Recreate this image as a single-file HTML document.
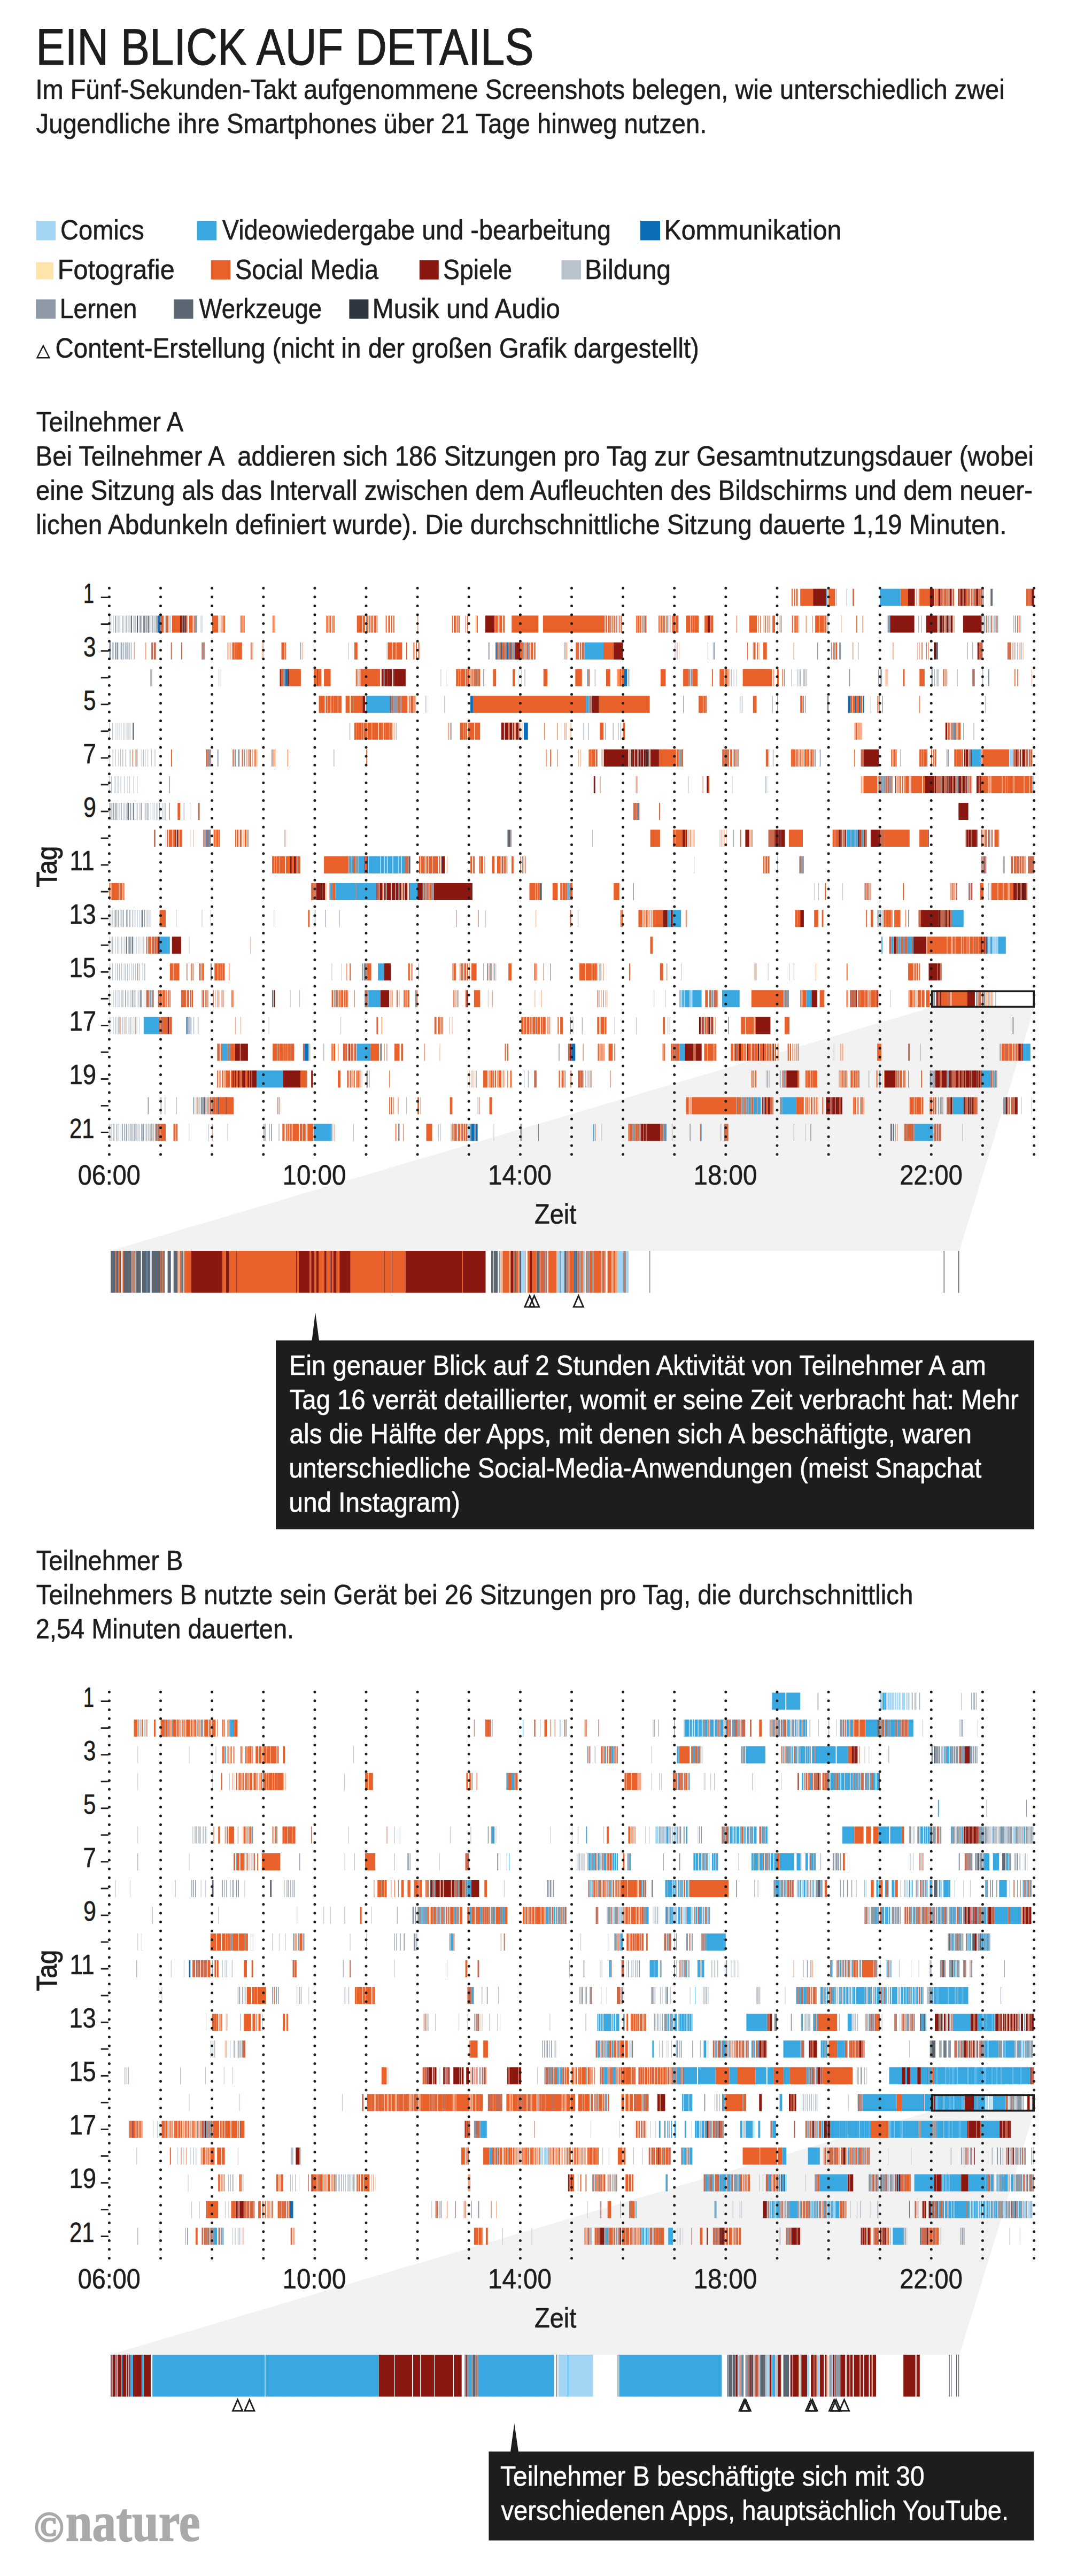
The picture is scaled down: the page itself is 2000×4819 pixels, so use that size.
<!DOCTYPE html>
<html lang="de"><head><meta charset="utf-8"><title>Ein Blick auf Details</title>
<style>html,body{margin:0;padding:0;background:#fff}svg{display:block}</style></head>
<body><svg width="2000" height="4819" viewBox="0 0 2000 4819">
<rect width="2000" height="4819" fill="#fff"/>
<text x="67.3" y="120.7" font-size="97.0" textLength="931.3" lengthAdjust="spacingAndGlyphs" fill="#1d1d1b" stroke="#1d1d1b" stroke-width="1.16" stroke-linejoin="round" font-family='"Liberation Sans",sans-serif'>EIN BLICK AUF DETAILS</text>
<text x="66.4" y="184.9" font-size="52.5" textLength="1813.3" lengthAdjust="spacingAndGlyphs" fill="#1d1d1b" stroke="#1d1d1b" stroke-width="0.63" stroke-linejoin="round" font-family='"Liberation Sans",sans-serif'>Im Fünf-Sekunden-Takt aufgenommene Screenshots belegen, wie unterschiedlich zwei</text>
<text x="67.6" y="248.5" font-size="52.5" textLength="1254.7" lengthAdjust="spacingAndGlyphs" fill="#1d1d1b" stroke="#1d1d1b" stroke-width="0.63" stroke-linejoin="round" font-family='"Liberation Sans",sans-serif'>Jugendliche ihre Smartphones über 21 Tage hinweg nutzen.</text>
<rect x="67.5" y="413.0" width="36.5" height="36.5" fill="#a3d5f5"/>
<text x="113.1" y="448.4" font-size="52.5" textLength="156.7" lengthAdjust="spacingAndGlyphs" fill="#1d1d1b" stroke="#1d1d1b" stroke-width="0.63" stroke-linejoin="round" font-family='"Liberation Sans",sans-serif'>Comics</text>
<rect x="368.5" y="413.0" width="36.5" height="36.5" fill="#3aa8e0"/>
<text x="415.8" y="448.4" font-size="52.5" textLength="727.1" lengthAdjust="spacingAndGlyphs" fill="#1d1d1b" stroke="#1d1d1b" stroke-width="0.63" stroke-linejoin="round" font-family='"Liberation Sans",sans-serif'>Videowiedergabe und -bearbeitung</text>
<rect x="1198.0" y="413.0" width="37.0" height="36.5" fill="#0a6db8"/>
<text x="1242.6" y="448.4" font-size="52.5" textLength="331.7" lengthAdjust="spacingAndGlyphs" fill="#1d1d1b" stroke="#1d1d1b" stroke-width="0.63" stroke-linejoin="round" font-family='"Liberation Sans",sans-serif'>Kommunikation</text>
<rect x="67.3" y="490.5" width="32.7" height="32.0" fill="#fde4a9"/>
<text x="107.8" y="522.0" font-size="52.5" textLength="218.9" lengthAdjust="spacingAndGlyphs" fill="#1d1d1b" stroke="#1d1d1b" stroke-width="0.63" stroke-linejoin="round" font-family='"Liberation Sans",sans-serif'>Fotografie</text>
<rect x="394.7" y="486.8" width="36.5" height="36.0" fill="#e8602a"/>
<text x="439.9" y="522.0" font-size="52.5" textLength="268.1" lengthAdjust="spacingAndGlyphs" fill="#1d1d1b" stroke="#1d1d1b" stroke-width="0.63" stroke-linejoin="round" font-family='"Liberation Sans",sans-serif'>Social Media</text>
<rect x="784.8" y="486.8" width="36.0" height="36.0" fill="#8a1811"/>
<text x="828.9" y="522.0" font-size="52.5" textLength="129.2" lengthAdjust="spacingAndGlyphs" fill="#1d1d1b" stroke="#1d1d1b" stroke-width="0.63" stroke-linejoin="round" font-family='"Liberation Sans",sans-serif'>Spiele</text>
<rect x="1050.5" y="486.8" width="36.5" height="36.0" fill="#b9c3cd"/>
<text x="1094.1" y="522.0" font-size="52.5" textLength="161.1" lengthAdjust="spacingAndGlyphs" fill="#1d1d1b" stroke="#1d1d1b" stroke-width="0.63" stroke-linejoin="round" font-family='"Liberation Sans",sans-serif'>Bildung</text>
<rect x="67.3" y="560.2" width="36.7" height="36.1" fill="#8e99a6"/>
<text x="111.8" y="595.4" font-size="52.5" textLength="144.5" lengthAdjust="spacingAndGlyphs" fill="#1d1d1b" stroke="#1d1d1b" stroke-width="0.63" stroke-linejoin="round" font-family='"Liberation Sans",sans-serif'>Lernen</text>
<rect x="325.0" y="560.2" width="36.5" height="36.1" fill="#5c6672"/>
<text x="372.5" y="595.4" font-size="52.5" textLength="229.6" lengthAdjust="spacingAndGlyphs" fill="#1d1d1b" stroke="#1d1d1b" stroke-width="0.63" stroke-linejoin="round" font-family='"Liberation Sans",sans-serif'>Werkzeuge</text>
<rect x="653.4" y="560.2" width="36.0" height="36.1" fill="#2f3642"/>
<text x="696.8" y="595.4" font-size="52.5" textLength="351.1" lengthAdjust="spacingAndGlyphs" fill="#1d1d1b" stroke="#1d1d1b" stroke-width="0.63" stroke-linejoin="round" font-family='"Liberation Sans",sans-serif'>Musik und Audio</text>
<path d="M69.55 669.2L80.9 646.7L92.25 669.2Z" fill="none" stroke="#1d1d1b" stroke-width="2.4"/>
<text x="103.6" y="669.4" font-size="52.5" textLength="1204.3" lengthAdjust="spacingAndGlyphs" fill="#1d1d1b" stroke="#1d1d1b" stroke-width="0.63" stroke-linejoin="round" font-family='"Liberation Sans",sans-serif'>Content-Erstellung (nicht in der großen Grafik dargestellt)</text>
<text x="67.7" y="807.4" font-size="52.5" textLength="275.6" lengthAdjust="spacingAndGlyphs" fill="#1d1d1b" stroke="#1d1d1b" stroke-width="0.63" stroke-linejoin="round" font-family='"Liberation Sans",sans-serif'>Teilnehmer A</text>
<text x="66.6" y="871.3" font-size="52.5" textLength="1867.4" lengthAdjust="spacingAndGlyphs" fill="#1d1d1b" stroke="#1d1d1b" stroke-width="0.63" stroke-linejoin="round" font-family='"Liberation Sans",sans-serif' xml:space="preserve" style="white-space:pre">Bei Teilnehmer A  addieren sich 186 Sitzungen pro Tag zur Gesamtnutzungsdauer (wobei</text>
<text x="67.1" y="935.1" font-size="52.5" textLength="1864.8" lengthAdjust="spacingAndGlyphs" fill="#1d1d1b" stroke="#1d1d1b" stroke-width="0.63" stroke-linejoin="round" font-family='"Liberation Sans",sans-serif'>eine Sitzung als das Intervall zwischen dem Aufleuchten des Bildschirms und dem neuer-</text>
<text x="66.9" y="999.1" font-size="52.5" textLength="1816.6" lengthAdjust="spacingAndGlyphs" fill="#1d1d1b" stroke="#1d1d1b" stroke-width="0.63" stroke-linejoin="round" font-family='"Liberation Sans",sans-serif'>lichen Abdunkeln definiert wurde). Die durchschnittliche Sitzung dauerte 1,19 Minuten.</text>
<text x="67.8" y="2936.5" font-size="52.5" textLength="274.6" lengthAdjust="spacingAndGlyphs" fill="#1d1d1b" stroke="#1d1d1b" stroke-width="0.63" stroke-linejoin="round" font-family='"Liberation Sans",sans-serif'>Teilnehmer B</text>
<text x="67.8" y="3000.5" font-size="52.5" textLength="1640.5" lengthAdjust="spacingAndGlyphs" fill="#1d1d1b" stroke="#1d1d1b" stroke-width="0.63" stroke-linejoin="round" font-family='"Liberation Sans",sans-serif'>Teilnehmers B nutzte sein Gerät bei 26 Sitzungen pro Tag, die durchschnittlich</text>
<text x="66.7" y="3064.7" font-size="52.5" textLength="483.4" lengthAdjust="spacingAndGlyphs" fill="#1d1d1b" stroke="#1d1d1b" stroke-width="0.63" stroke-linejoin="round" font-family='"Liberation Sans",sans-serif'>2,54 Minuten dauerten.</text>
<path d="M1741 1885L1935 1885L1795 2340L206 2340Z" fill="#f2f2f2"/>
<path d="M1480.9 1117.6H2100" stroke="#e8602a" stroke-width="32" stroke-dasharray="2 2.8 2 1.9 2.8 4.8 24 28.8 12.5 32.7 2.9 86.5 14.4 21.1 19.2 7.7 1.5 1 3 1 2 8 2 2 3 2 2 9.5 1 21.6 4 7.5 1.5 4.5 2 6 2 3 1.2 81.7 1 1 2 1.5 1.5 3000"/>
<path d="M1521.2 1117.6H2100" stroke="#8a1811" stroke-width="32" stroke-dasharray="24 153.8 12.5 27.9 7.7 8.5 4 7 1 9 4 11.7 1.5 3 4 2 3.9 19.5 4 99.5 4.8 3000"/>
<path d="M1545.3 1117.6H2100" stroke="#3aa8e0" stroke-width="32" stroke-dasharray="2.9 98 38.4 3000"/>
<path d="M1564.5 1117.6H2100" stroke="#8e99a6" stroke-width="32" stroke-dasharray="1 18.3 1 253.8 1.9 12.5 1 2 1.8 3000"/>
<path d="M1713.5 1117.6H2100" stroke="#f4a582" stroke-width="32" stroke-dasharray="1.5 1.9 1.4 3000"/>
<path d="M1759.6 1117.6H2100" stroke="#c96a4e" stroke-width="32" stroke-dasharray="4 7 2 2 2 5.5 2 9.7 3 4 2 7.9 4 1.5 2 3 3 6 2 2 3 83.9 1 2 1.5 1.5 2.6 3000"/>
<path d="M1853.9 1117.6H2100" stroke="#5c6672" stroke-width="32" stroke-dasharray="2 3000"/>
<path d="M204.4 1167.6H2100" stroke="#8e99a6" stroke-width="32" stroke-dasharray="1 9.7 1.6 4.9 0.7 6.2 1 7 1.6 4.8 1 5.9 1.6 2.1 1 10.1 1.3 15.9 1.3 4.5 1.3 5.2 1.3 69.5 4 786.7 1 2.9 1 87.4 1.5 1.4 1 10.1 1 5 1.5 191.4 1.6 198.2 4 53.7 1 3.8 1 116.2 2 7 1.5 9.7 2 3.3 1.6 28.8 0.7 2.7 1.3 7.5 1 1 0.2 3000"/>
<path d="M206.7 1167.6H2100" stroke="#b9c3cd" stroke-width="32" stroke-dasharray="1.6 2.7 1.6 5.7 1.3 3.9 1.6 5.9 1.3 2.2 0.7 4.4 1 0.9 1 65.7 2 5.2 2 0.7 1.5 55.9 1.3 1.8 0.7 1167.9 2.9 286.4 2 5.3 1 7.3 1.5 4.9 1 3000"/>
<path d="M245.6 1167.6H2100" stroke="#2f3642" stroke-width="32" stroke-dasharray="1.3 9.3 1.6 19.1 1 3000"/>
<path d="M259.9 1167.6H2100" stroke="#5c6672" stroke-width="32" stroke-dasharray="0.7 1.5 1 4.6 1 1.4 1 1.5 1 0.9 1 4.2 0.7 4.1 1 5.9 1.3 49.4 1 1.5 2 3000"/>
<path d="M295.7 1167.6H2100" stroke="#0a6db8" stroke-width="32" stroke-dasharray="4.8 1364.1 0.8 3000"/>
<path d="M300.5 1167.6H2100" stroke="#e8602a" stroke-width="32" stroke-dasharray="5.8 4.5 4 6.9 15.4 11.5 2 2.9 1.5 0.6 5 1.9 2 32.3 11.5 2.9 1 1.2 1 1.1 1 1.3 3 28.8 1 0.6 1.5 0.8 1.5 0.7 2 52.4 1 0.4 2 1 0.4 95.2 1 1 1 1.5 2 1 2 2.4 1 0.9 2 41.8 4 0.3 6 0.9 4 2.1 1.5 0.6 2 1.9 1.5 1 1 0.3 1 0.5 2 1.8 3 1.4 1.7 15.4 2 2.2 1 1 2 2.1 2 2 2 43.4 1 63.4 2 1.3 2 0.5 2 1.2 1 0.5 1.5 0.9 1.5 10.6 1 2.1 1.3 14.9 1 1.4 1.6 31.6 1.5 0.3 4 1.3 1.5 0.3 5 1.8 3 12.9 50 8.7 114.4 0.5 1.5 0.9 3 1.5 3 4.8 1.5 1.3 2 7.6 1 2.7 1.5 26.9 1 0.7 1 0.8 2 0.9 1 0.5 1.5 1.3 1.5 0.7 1 1 1 1 2.5 22.1 1 0.9 2 1.1 3 1.3 3 1.8 1.5 5.8 1 0.8 0.9 1.9 5 1 5 15 8 1.1 3 0.3 3 0.3 8 10.9 6.7 4.8 4.8 43.3 1 23.1 14.4 1.9 1 2.9 0.9 5.8 1.3 1.2 1.6 2.4 1 1.5 0.7 1.1 0.9 4.8 4.8 4.8 1 2.9 1.3 21.7 2 1.5 1.5 1 1.5 0.7 1 0.7 2 1.4 0.2 12.5 1 10.6 1 4.8 8 0.6 8 0.7 3.9 26.9 1 27.9 1.9 9.6 1 284.2 0.7 3.5 1.3 1.6 1.6 3000"/>
<path d="M337.0 1167.6H2100" stroke="#8a1811" stroke-width="32" stroke-dasharray="3 3 1.5 2 2 559.5 17.3 398.9 4.8 336.4 45.2 22.1 20.3 23.5 1 24.4 34.6 3000"/>
<path d="M340.0 1167.6H2100" stroke="#c96a4e" stroke-width="32" stroke-dasharray="2 799.9 2 7.9 2 599.2 1.5 1.5 2 5 2 2.5 2 5 1 6 1.5 1.5 1 59.6 2 7.3 2 7.4 1 3000"/>
<path d="M1759.0 1167.6H2100" stroke="#6e1a14" stroke-width="32" stroke-dasharray="4 2 1.5 4 4 4 3 3000"/>
<path d="M204.4 1217.7H2100" stroke="#8e99a6" stroke-width="32" stroke-dasharray="3 7.8 2 1.1 3 2.7 1 0.8 2 10.6 1.5 139.5 3 179.6 1.3 350.5 1.9 16.5 3 9 2 12.5 4 15.6 2 18.5 1 57.1 1 206.3 1 58.9 1 8.7 1 1.2 1 191.9 1.6 24.4 1.5 13.6 3 236.6 1 8.7 1 77.9 1.3 3.9 1 5.2 1.6 3000"/>
<path d="M209.8 1217.7H2100" stroke="#b9c3cd" stroke-width="32" stroke-dasharray="3 16.6 3 1.5 3 3.7 3 1.9 1.5 404.3 1 71.1 1 3000"/>
<path d="M250.5 1217.7H2100" stroke="#f4a582" stroke-width="32" stroke-dasharray="1.6 19.5 1.9 151.9 2 2.2 2 1.9 1.5 54.8 1.5 1.7 1 1.5 0.1 766.1 0.7 4.3 1 2.5 0.7 635.2 1.3 6.2 1 3000"/>
<path d="M283.2 1217.7H2100" stroke="#c96a4e" stroke-width="32" stroke-dasharray="3 1.5 4 1 0.1 26.9 1.9 17.3 1.9 36.5 2 3 0.8 696 1 2 1.5 5 4 739.2 5 1 0.6 47.1 1.5 1.5 3 3000"/>
<path d="M435.1 1217.7H2100" stroke="#e8602a" stroke-width="32" stroke-dasharray="3 0.3 3 0.4 11 16 1 0.5 2 0.8 0.5 52.9 6 0.9 1.8 30.7 0.7 96.4 5.8 56.7 8 1.1 6 0.9 10.8 7.7 1.9 11.5 2 2.6 2 2.6 2 144.6 3 3 2 2 5 2 1.5 3 4 2 2 14.6 5 3 2 1.5 3 2.5 2 1 4 2.5 2 53.2 1 3.9 1 16.2 2 1 2 3 2 5.5 0.8 35.6 19.2 249.9 1 9.6 1 0.8 3 2.9 2 1.4 0.5 7.7 6.7 50 1 72.6 1.5 1.3 1 1.2 3 29 1 8.7 1 64.4 1 45.2 1 1.4 1.3 3.9 1.6 7.1 1 2.1 1 147.8 1 1.5 1.5 4.5 1 1.5 0.5 3000"/>
<path d="M927.2 1217.7H2100" stroke="#0a6db8" stroke-width="32" stroke-dasharray="2 8 2 8.5 3 4 2 6 1 24.1 1 3000"/>
<path d="M963.7 1217.7H2100" stroke="#8a1811" stroke-width="32" stroke-dasharray="9.6 174.9 17.3 663.2 3 5 1 3000"/>
<path d="M1093.5 1217.7H2100" stroke="#3aa8e0" stroke-width="32" stroke-dasharray="35.6 3000"/>
<path d="M1747.1 1217.7H2100" stroke="#6e1a14" stroke-width="32" stroke-dasharray="4 3000"/>
<path d="M1751.1 1217.7H2100" stroke="#5c6672" stroke-width="32" stroke-dasharray="3.7 3000"/>
<path d="M281.3 1267.8H2100" stroke="#8e99a6" stroke-width="32" stroke-dasharray="0.7 1.3 1 0.8 0.1 244.1 4 359.7 1.5 9.7 1.9 192.2 3.5 10.9 1 61.5 1 1.8 1 109.6 2.5 1.5 2.7 185.5 1 10.6 0.7 1.6 0.7 2 1.3 3.8 1 1.2 1 1.7 0.7 1 1 78.3 1.9 52.9 1.6 1.9 1 0.9 1.6 92.1 0.7 1.2 1 2.5 1 2.3 0.7 2.3 1.6 66.5 1.8 14.4 1 8.7 3 3000"/>
<path d="M409.1 1267.8H2100" stroke="#b9c3cd" stroke-width="32" stroke-dasharray="1 1 0.7 0.9 0.7 411 1 8.7 1 135.5 0.7 3.5 1 5.5 1.6 308.3 1.5 74.8 1.6 3.5 1 4 1 3000"/>
<path d="M523.5 1267.8H2100" stroke="#8a1811" stroke-width="32" stroke-dasharray="2 3.5 0.3 4 1 4 2.5 52.1 1 119.9 4 2 5 1 4 2 1.5 4.5 21.1 3000"/>
<path d="M525.5 1267.8H2100" stroke="#e8602a" stroke-width="32" stroke-dasharray="3.5 11.8 22.1 24 6 1 7.4 4.8 12.5 47.1 2 1 1.5 0.8 1 0.6 2 0.7 35.6 142.3 4 0.4 4 0.6 8 0.9 3 0.3 3.9 4 2 2 2.1 0.3 1.5 0.4 2 2.1 3.7 24 5.8 30.8 4.8 52.9 7.7 51.9 12.5 45.2 7.7 12.5 1 0.6 1 0.5 2 0.6 2.9 1 3.8 68.2 9.6 32.7 10.6 6.7 9.6 26.9 1.9 12.5 9 1.5 4 28.8 54.8 1.9 1 1.6 0.3 4.8 2.9 6.7 1.3 2 1 221.6 3 27.8 9.6 34.6 2 2.4 1 3 0.2 125 1.6 3.5 1.3 3000"/>
<path d="M534.3 1267.8H2100" stroke="#0a6db8" stroke-width="32" stroke-dasharray="4 629.2 5.8 3000"/>
<path d="M717.8 1267.8H2100" stroke="#5c6672" stroke-width="32" stroke-dasharray="2 15 1.5 1054 1 3000"/>
<path d="M724.8 1267.8H2100" stroke="#6e1a14" stroke-width="32" stroke-dasharray="1 4 2 4.5 1.5 3000"/>
<path d="M878.2 1267.8H2100" stroke="#f4a582" stroke-width="32" stroke-dasharray="4 2 2 474.6 4 291 0.7 1.2 1 1 0.9 106.6 1 1.9 2 157.6 1 3000"/>
<path d="M1101.8 1267.8H2100" stroke="#c96a4e" stroke-width="32" stroke-dasharray="1.3 716.1 3 3000"/>
<path d="M596.6 1317.8H2100" stroke="#e8602a" stroke-width="32" stroke-dasharray="11 1.6 3 0.4 6 0.9 4 0.3 8 0.6 6.5 7.7 7.7 2 4 0.7 17.3 65.9 2 5 10 4.5 2 1 5 1 1 2 0.5 106.7 211.5 24 95.2 91.3 8 1.2 4 0.4 1.8 86.5 6.7 81.7 4 5.6 1 82.8 4 1 4 3.5 4 2 4 28.3 2 1.8 1 4.8 1 68.2 1 3000"/>
<path d="M654.2 1317.8H2100" stroke="#fde4a9" stroke-width="32" stroke-dasharray="2 4 0.7 3000"/>
<path d="M678.3 1317.8H2100" stroke="#8a1811" stroke-width="32" stroke-dasharray="4.8 47.1 1.5 376.3 12.5 3000"/>
<path d="M685.0 1317.8H2100" stroke="#3aa8e0" stroke-width="32" stroke-dasharray="45.2 366.2 4.8 3000"/>
<path d="M731.7 1317.8H2100" stroke="#8e99a6" stroke-width="32" stroke-dasharray="1.5 2 9 5 2 350 1.5 3 2 170.4 1 104.8 1.3 2.6 1 55.7 1 8.7 1 46.3 2.7 43.3 2.9 293.2 1 3000"/>
<path d="M733.2 1317.8H2100" stroke="#c96a4e" stroke-width="32" stroke-dasharray="2 11 3 353.5 3 2 0.2 493.7 1.5 25.8 1 3000"/>
<path d="M762.2 1317.8H2100" stroke="#f4a582" stroke-width="32" stroke-dasharray="2 9.5 1 1 2 3000"/>
<path d="M795.5 1317.8H2100" stroke="#b9c3cd" stroke-width="32" stroke-dasharray="1 1.7 0.7 1.1 0.3 30.8 1 3000"/>
<path d="M880.1 1317.8H2100" stroke="#0a6db8" stroke-width="32" stroke-dasharray="4.8 701.7 4 9 2 5.5 2 5.5 2 3000"/>
<path d="M204.4 1367.8H2100" stroke="#b9c3cd" stroke-width="32" stroke-dasharray="1.3 4.4 1.3 4 0.7 2.4 1 2.9 1 2.9 1 2.7 1 2.3 0.7 1.4 1 1.4 0.7 1 1 2 1.6 2.8 0.9 3000"/>
<path d="M248.6 1367.8H2100" stroke="#5c6672" stroke-width="32" stroke-dasharray="1.9 3000"/>
<path d="M654.2 1367.8H2100" stroke="#8e99a6" stroke-width="32" stroke-dasharray="1 187.9 1.6 246.9 1 7.7 1 30.8 1 13.5 1 8.7 1 3.8 1 619 5 16.1 1 18.3 1 3000"/>
<path d="M662.9 1367.8H2100" stroke="#e8602a" stroke-width="32" stroke-dasharray="4 0.3 4 0.6 4 0.4 4 0.6 6 0.6 8 0.8 11 1.5 8 1 4 0.2 6 0.4 3 0.4 1.2 105.7 1 2.1 0.7 18.3 6 0.5 3 0.3 3.7 1.9 11 1.4 9.7 120.1 1 23.1 1 23.1 0.7 2 0.2 52.9 6.7 36.5 3.8 431.8 2 4.5 1 3 0.9 160.7 3 2.5 2 5.8 3 3 4.6 3000"/>
<path d="M733.1 1367.8H2100" stroke="#f4a582" stroke-width="32" stroke-dasharray="1.6 1.9 0.7 1 1 1.7 1 209.4 2 8 4 5.2 3 2.8 1 77.8 1.3 1.8 1.6 538.4 1 0.6 1 3.2 3 2.1 2 179.5 2 3000"/>
<path d="M937.8 1367.8H2100" stroke="#8a1811" stroke-width="32" stroke-dasharray="5 1.5 7 2 5 1 2 4 5 799 3 3000"/>
<path d="M980.1 1367.8H2100" stroke="#0a6db8" stroke-width="32" stroke-dasharray="7.7 798 0.8 3000"/>
<path d="M1768.3 1367.8H2100" stroke="#c96a4e" stroke-width="32" stroke-dasharray="1 7 1 3000"/>
<path d="M204.4 1417.9H2100" stroke="#b9c3cd" stroke-width="32" stroke-dasharray="1 5.1 1.3 4.2 1 4.2 0.7 3.1 1 2.8 1.6 4.2 1.6 5.6 0.7 1.6 1 3.1 1 3.7 1 3.2 1 5.7 0.7 3.5 1 2.9 0.7 3.6 1 5.9 1 5.2 1.3 1149.2 1 3.2 0.7 2.2 1 3000"/>
<path d="M247.7 1417.9H2100" stroke="#e8602a" stroke-width="32" stroke-dasharray="1 5.8 1 64.4 1.9 66.4 2 45 2 15.4 2 9.8 1 2.4 1.5 6.9 1 0.8 1 28.3 0.7 1.2 1 1.4 1.3 1 1 23.2 1 146.1 1.9 334.5 1 6.7 1.9 11.5 1 57.7 2 0.3 2 0.5 1.5 0.2 1.5 0.4 4 0.9 3 115.3 31.8 1 4 5 3.3 73.1 2 2 1 4.6 3 1.8 1.5 0.7 2 3.1 2 2.8 2 1.1 1 51 4.8 42.3 1.5 0.3 1.5 0.3 5 1.1 3 4.6 2 5.8 4 0.9 1.5 0.6 2 0.7 1.5 0.4 3 0.7 2 0.6 0.2 75 1 68.2 2 1.1 1 0.3 1 0.3 2 0.5 2 42.6 4 0.4 3 0.4 6 0.8 0.7 6.7 2 2 2 0.7 2.9 33.6 4 0.2 3 0.2 6.9 38.4 50 28.7 1.5 10.5 2.6 3000"/>
<path d="M385.1 1417.9H2100" stroke="#c96a4e" stroke-width="32" stroke-dasharray="2 7 0.6 958.4 2 1 4.6 249.9 4.8 184.6 2 4 1 5 2 20.9 1.6 59.6 5 2.5 3 1 1 3 1.5 5.5 4 2.5 3 3000"/>
<path d="M387.1 1417.9H2100" stroke="#8e99a6" stroke-width="32" stroke-dasharray="1 2 4 12.1 1 1.2 0.7 29.7 3 3.5 3 8 2 7.6 1 157.5 1 645.3 4 96.2 1.5 3 1.5 147.2 1.9 7.7 1.6 149.3 1.3 3000"/>
<path d="M460.7 1417.9H2100" stroke="#f4a582" stroke-width="32" stroke-dasharray="2 8.6 2 6.7 1.3 600.8 1 2.7 1 38.5 1 0.9 1 0.9 1 46.8 3 35.2 1.5 276.8 3 3.4 4 3000"/>
<path d="M1130.0 1417.9H2100" stroke="#8a1811" stroke-width="32" stroke-dasharray="45.4 5.5 1.5 0.5 4 1.2 4 0.6 1.5 4.9 4 5.9 3 1 1.5 2.5 15.9 382.6 28.8 159.2 1.5 2 4 4.9 2 83.2 2.5 5 1.5 3 4 5.5 1 3000"/>
<path d="M1194.6 1417.9H2100" stroke="#6e1a14" stroke-width="32" stroke-dasharray="4 5.6 4 3000"/>
<path d="M1771.2 1417.9H2100" stroke="#5c6672" stroke-width="32" stroke-dasharray="1 0.8 1.6 3000"/>
<path d="M1814.4 1417.9H2100" stroke="#3aa8e0" stroke-width="32" stroke-dasharray="1.5 2 17 3000"/>
<path d="M1888.4 1417.9H2100" stroke="#a3d5f5" stroke-width="32" stroke-dasharray="7.7 3000"/>
<path d="M204.4 1467.9H2100" stroke="#b9c3cd" stroke-width="32" stroke-dasharray="1 2.3 1.3 4.6 0.7 1.9 1 2.8 1.6 3.9 1 5.4 1 4.8 0.7 3 1.3 6.8 1 5.8 1 1030.5 1 80.7 1 61.5 1 1.3 1 374.5 1.5 3000"/>
<path d="M316.9 1467.9H2100" stroke="#c96a4e" stroke-width="32" stroke-dasharray="1 804.5 1 66.3 1 1.5 0.4 450.8 4 4 1 4 3 1 3 4 2 77.8 2 2 9.5 1.5 1 3 5.5 3 1.5 1 1 3 3 3 2 9 3 5 2 3.3 1.5 0.5 4 13.5 2.5 3000"/>
<path d="M1110.8 1467.9H2100" stroke="#8a1811" stroke-width="32" stroke-dasharray="2.9 208.6 3.5 349.3 1.5 25.5 1 27.7 16.3 24.5 1 5.5 3 12 3 8 2 2 1.5 17.3 4 2.5 3.1 3000"/>
<path d="M1314.6 1467.9H2100" stroke="#e8602a" stroke-width="32" stroke-dasharray="1 10.2 1.3 288.4 26 36.6 1 1.5 1 1 3 1.5 3 1 1.5 1 7 4 20.5 1.5 4.2 105.7 12 1.5 1 4 19 2 5 1 3 1 7 1 2.5 1 17.5 2 8 1.5 5.2 3000"/>
<path d="M1610.6 1467.9H2100" stroke="#f4a582" stroke-width="32" stroke-dasharray="2 1.4 1.4 203.3 0.5 29.3 1.5 1 4 19 2 5 1 3 1 7 1 2.5 1 17.5 2 8 1.5 3000"/>
<path d="M1647.3 1467.9H2100" stroke="#8e99a6" stroke-width="32" stroke-dasharray="4 2 3 3 1 3 4 2 0.9 90.4 1.5 27 4 3000"/>
<path d="M1652.3 1467.9H2100" stroke="#3aa8e0" stroke-width="32" stroke-dasharray="1 3000"/>
<path d="M1749.1 1467.9H2100" stroke="#6e1a14" stroke-width="32" stroke-dasharray="2 12 3 6.5 2 1.5 1 7 3 9 2 3 3 3000"/>
<path d="M1931.7 1467.9H2100" stroke="#a3d5f5" stroke-width="32" stroke-dasharray="2.9 3000"/>
<path d="M204.4 1518.0H2100" stroke="#8e99a6" stroke-width="32" stroke-dasharray="1 3.2 1.6 1.8 1.6 4.2 1.6 4.3 1 1.7 1.3 2.3 0.7 7.6 0.7 4.7 1.3 7.4 0.7 1 1 6.3 1 1.8 1.3 6.9 1.3 1.6 1 1.4 1 7.1 0.7 6.1 0.7 4.1 1.6 9.2 1.3 34.2 1 3000"/>
<path d="M206.8 1518.0H2100" stroke="#5c6672" stroke-width="32" stroke-dasharray="0.7 7.7 1 23.7 1.3 7.9 1.3 3000"/>
<path d="M221.8 1518.0H2100" stroke="#b9c3cd" stroke-width="32" stroke-dasharray="0.7 9.8 1 1.9 1.6 9.7 1 4.6 0.3 4.6 1 11.5 0.7 11.4 1 5.7 1 5.2 0.7 8.2 1 1.8 0.7 48.2 1 3000"/>
<path d="M316.9 1518.0H2100" stroke="#e8602a" stroke-width="32" stroke-dasharray="1 14.4 4.8 847.8 3 1 1.5 5 1 36.5 1.9 3000"/>
<path d="M370.7 1518.0H2100" stroke="#c96a4e" stroke-width="32" stroke-dasharray="2.9 814.3 1 1.5 4 3000"/>
<path d="M1194.3 1518.0H2100" stroke="#0a6db8" stroke-width="32" stroke-dasharray="1 3000"/>
<path d="M1793.3 1518.0H2100" stroke="#8a1811" stroke-width="32" stroke-dasharray="18.3 3000"/>
<path d="M288.0 1568.0H2100" stroke="#c96a4e" stroke-width="32" stroke-dasharray="2 90.3 2 2 2 1.5 2 1 2 561.5 1.5 428.9 1.9 50.9 11.5 112.6 1.5 9.5 1.5 4.5 2 1.5 1 23.6 1 2 3 3 1 1 4 24.3 8 152.5 1.5 3 1 4 2 9 1 7.3 3 4.9 3 1.8 2 0.8 1.5 2.9 2 3000"/>
<path d="M290.0 1568.0H2100" stroke="#8e99a6" stroke-width="32" stroke-dasharray="0.9 19.2 1 71.2 2 565 1 5.5 1 415.4 1 218.5 1 6 2 21.1 0.3 3000"/>
<path d="M312.1 1568.0H2100" stroke="#e8602a" stroke-width="32" stroke-dasharray="2 1.5 7 1.5 4 5 1.5 1 5 59 1.5 0.2 2 0.6 1.5 0.4 3 0.8 1.6 28.8 1 2 2 4 3 5.9 3 2 1 0.9 1 65.5 0.7 0.8 1 2.2 0.1 680.5 18.3 24 4 0.5 13.4 5 2 12.2 1 108.8 1 0.3 0.7 68.2 26 55.7 4 1.5 5.5 8 2 75.4 47.7 18.3 15.4 125 8 3000"/>
<path d="M328.1 1568.0H2100" stroke="#8a1811" stroke-width="32" stroke-dasharray="2 1 2 943.7 5 2 2 108.6 6.7 49.1 6 1 3 1 7.2 100.4 4 1.5 1.5 5 1.5 22.6 2 1 2 7 1 11 17.3 89.4 1.9 70.7 3 1 4 2 9 1 0.6 3000"/>
<path d="M355.3 1568.0H2100" stroke="#f4a582" stroke-width="32" stroke-dasharray="1 4.8 1 79.3 1 3.7 1 0.3 1 5.5 1.5 0.7 1 830.7 1.5 1.3 3 5 1 48.4 0.7 0.6 1 3.6 1.6 2.6 1.3 41.9 3 435.7 3 25.8 0.7 3000"/>
<path d="M386.3 1568.0H2100" stroke="#0a6db8" stroke-width="32" stroke-dasharray="1.5 2 1 2 1 3000"/>
<path d="M950.3 1568.0H2100" stroke="#5c6672" stroke-width="32" stroke-dasharray="4 2.5 0.2 3000"/>
<path d="M1107.9 1568.0H2100" stroke="#b9c3cd" stroke-width="32" stroke-dasharray="1 744.6 1.5 3000"/>
<path d="M1345.3 1568.0H2100" stroke="#a3d5f5" stroke-width="32" stroke-dasharray="1 5.2 0.7 3000"/>
<path d="M1449.2 1568.0H2100" stroke="#6e1a14" stroke-width="32" stroke-dasharray="1 6 1 3 1 3000"/>
<path d="M1583.7 1568.0H2100" stroke="#3aa8e0" stroke-width="32" stroke-dasharray="8 1 6 2 4.1 8 3 3000"/>
<path d="M509.1 1618.1H2100" stroke="#e8602a" stroke-width="32" stroke-dasharray="4 0.4 4 0.5 4 0.5 11 1.4 7.9 3 4 4 2 1 5.1 44.2 45.2 1 2 6.5 4 18.3 3 97.9 2.5 1.5 3 3 2 1.5 3.5 5 3 5 4 3.5 2 56.6 3 1.8 1 0.2 2 8.3 2 0.5 5 16.5 4.8 4.8 5 1.3 2 4.9 3 2.4 0.7 7.7 3.8 12.5 1.3 2.5 1 4.7 1 444.2 2 0.6 1.5 0.5 3 1 3 457.3 4 6.6 3 0.9 1.5 3000"/>
<path d="M542.8 1618.1H2100" stroke="#8a1811" stroke-width="32" stroke-dasharray="3 4 4 128.3 1 3 1.8 138.4 5.8 106.9 1.5 3000"/>
<path d="M555.8 1618.1H2100" stroke="#8e99a6" stroke-width="32" stroke-dasharray="1 100.5 1.5 6 5.7 154.4 1.3 669 1.5 2 5.2 332.6 2 1 1 3 1 32.3 1 0.6 1.3 3000"/>
<path d="M651.4 1618.1H2100" stroke="#3aa8e0" stroke-width="32" stroke-dasharray="1 2 3 1.5 2 9.7 11.5 5.8 1 1 21.5 1 6 1.5 4 1.5 8.5 2 9 1.5 4 1.5 5.2 3000"/>
<path d="M688.9 1618.1H2100" stroke="#a3d5f5" stroke-width="32" stroke-dasharray="1 21.5 1 6 1.5 4 1.5 8.5 2 9 1.5 4 1.5 3000"/>
<path d="M757.1 1618.1H2100" stroke="#c96a4e" stroke-width="32" stroke-dasharray="7.5 26.4 2 9 4 4 4 4 2 676.8 2 336.8 1 2 1 2 2 47.7 4 6.1 5 6.8 1.5 0.3 1.5 6.6 11.5 3000"/>
<path d="M764.6 1618.1H2100" stroke="#f4a582" stroke-width="32" stroke-dasharray="0.2 71.1 1 68.8 2 33.2 2 3.7 1.5 31.2 1.6 3.8 0.2 931.8 3 3000"/>
<path d="M764.8 1618.1H2100" stroke="#5c6672" stroke-width="32" stroke-dasharray="2.9 3000"/>
<path d="M1298.2 1618.1H2100" stroke="#b9c3cd" stroke-width="32" stroke-dasharray="1 154.8 1 3000"/>
<path d="M1840.6 1618.1H2100" stroke="#6e1a14" stroke-width="32" stroke-dasharray="1 3 0.6 3000"/>
<path d="M204.4 1668.1H2100" stroke="#e8602a" stroke-width="32" stroke-dasharray="2 2 14 2 4 1 1.5 2 0.3 352.9 2 2.5 1.1 30 5.5 163.4 1 1 3 6 2 7 1.1 178.8 11 0.7 3 0.5 4.1 24 9.6 4.8 4 0.5 6 0.4 2.5 4.8 4.8 76.9 10.6 384.5 1.9 77.7 1 65.5 1.9 142.3 6.7 14.4 12 1 9 1.5 7.5 1 1 1.5 6.8 3000"/>
<path d="M206.4 1668.1H2100" stroke="#f4a582" stroke-width="32" stroke-dasharray="2 14 2 4 1 1.5 2 375.2 1 1.2 0.6 4.8 2 132.7 4 6.5 3 2.5 0.2 860.7 2 148.5 3 2.2 4 79.7 1 9 1.5 7.5 1 1 1.5 3000"/>
<path d="M582.2 1668.1H2100" stroke="#c96a4e" stroke-width="32" stroke-dasharray="4 2 2.5 74.2 1.9 39.5 3 6 2 80.5 3 3 4 377.1 1 431.6 1 0.6 2 0.7 1 1.7 2 154.9 1.5 5.4 2.2 112.5 2 4 3 7.5 2.7 3000"/>
<path d="M591.8 1668.1H2100" stroke="#8a1811" stroke-width="32" stroke-dasharray="8.5 3 4.8 96.1 2 4 5 3.5 3 1.5 8 1.5 7 1 5 1.5 3.3 4 2 1.5 3 4 1.5 14.6 9.6 21.1 72.1 928.5 1.5 2 1 0.5 1.7 76.9 6.7 3000"/>
<path d="M600.3 1668.1H2100" stroke="#6e1a14" stroke-width="32" stroke-dasharray="3 1301.6 4 3 7.5 3000"/>
<path d="M617.8 1668.1H2100" stroke="#3aa8e0" stroke-width="32" stroke-dasharray="4 5.5 37.5 1.9 37.5 62.5 14.4 10.6 1 8 1 260.1 2 2 0.8 3000"/>
<path d="M795.7 1668.1H2100" stroke="#8e99a6" stroke-width="32" stroke-dasharray="2 10 3 253.1 2 3000"/>
<path d="M1009.9 1668.1H2100" stroke="#5c6672" stroke-width="32" stroke-dasharray="3.8 3000"/>
<path d="M1523.2 1668.1H2100" stroke="#b9c3cd" stroke-width="32" stroke-dasharray="1 6.7 1 44.2 1 271.1 2 1.6 1 3000"/>
<path d="M204.4 1718.2H2100" stroke="#b9c3cd" stroke-width="32" stroke-dasharray="0.7 19.1 1.3 12.6 1 11 0.7 1 1.6 6.8 1 68.1 1 47.1 1 15.4 1 117.3 1 395.1 1 3000"/>
<path d="M207.2 1718.2H2100" stroke="#8e99a6" stroke-width="32" stroke-dasharray="1 2.4 1 1.5 1 13.4 1.3 1.6 1.3 4.2 1 5.3 1.6 12.4 1 6.6 1 5.2 1.3 3.3 1 2.8 0.7 1.1 1 307.6 1.3 17.9 1 471.9 1 559.4 0.7 1.2 0.7 3.2 1.3 1.3 1.2 3000"/>
<path d="M216.2 1718.2H2100" stroke="#5c6672" stroke-width="32" stroke-dasharray="1.3 3.1 1 26.5 0.7 17.3 1 3000"/>
<path d="M298.6 1718.2H2100" stroke="#e8602a" stroke-width="32" stroke-dasharray="11.5 266.3 2.9 487.3 2 92.2 2 0.6 2 29 7.7 1.9 1.5 3 3 3 1 5.5 4 0.1 15.4 42.3 0.7 0.8 1 202.3 4 0.4 5.2 26 7.7 6.7 2.9 79.8 1.9 6.7 4.8 19.2 4 1.2 3 0.8 5 0.8 2 3.4 11.5 9.6 1 3.8 1 3000"/>
<path d="M635.0 1718.2H2100" stroke="#f4a582" stroke-width="32" stroke-dasharray="1 366.2 1 202.4 2 4 2 3.5 3 5 0.1 62.3 0.1 3000"/>
<path d="M853.2 1718.2H2100" stroke="#c96a4e" stroke-width="32" stroke-dasharray="1 40.4 1 822.8 4.8 36.6 6 1 2 3 4 1.5 3.5 3000"/>
<path d="M1240.6 1718.2H2100" stroke="#8a1811" stroke-width="32" stroke-dasharray="8.2 6 4 238.4 6.7 219.2 33.6 3000"/>
<path d="M1248.8 1718.2H2100" stroke="#3aa8e0" stroke-width="32" stroke-dasharray="6 4 15.4 370.3 1 135.2 22.1 3000"/>
<path d="M1756.7 1718.2H2100" stroke="#6e1a14" stroke-width="32" stroke-dasharray="3 6 1 2 3 4 1.5 3000"/>
<path d="M204.4 1768.2H2100" stroke="#b9c3cd" stroke-width="32" stroke-dasharray="1 2 1 1.3 1.6 4.4 1 2.4 1 1.4 0.7 1.6 0.7 2.3 1.6 3.2 1.3 2.2 1 13.5 1 1.5 1 1.3 1.3 2.5 1 2.2 1 2.9 1 2 1.6 83.5 1 3000"/>
<path d="M236.1 1768.2H2100" stroke="#5c6672" stroke-width="32" stroke-dasharray="1.5 1.8 1 6.1 2 3000"/>
<path d="M241.5 1768.2H2100" stroke="#8e99a6" stroke-width="32" stroke-dasharray="3 32.6 1 10.5 1 3000"/>
<path d="M273.6 1768.2H2100" stroke="#c96a4e" stroke-width="32" stroke-dasharray="2 2.5 1 5 4.5 1 3 176.1 1 1193.8 4 9 4 4 4.5 2.5 7 7.5 2 113.5 3 6 1.5 3000"/>
<path d="M279.1 1768.2H2100" stroke="#e8602a" stroke-width="32" stroke-dasharray="4 9.5 3.1 920.8 4.8 450.2 1 16.5 0.5 45.2 36.6 1 7 3 4 1 11 1 3.5 1 5 1 3 1.7 7 3 6 1.5 3 2 5 1.5 1 1.5 0.2 3000"/>
<path d="M295.7 1768.2H2100" stroke="#8a1811" stroke-width="32" stroke-dasharray="2 24 17.3 1333.5 4 32.2 24 102.2 2 5 1.5 1 1.5 3000"/>
<path d="M297.7 1768.2H2100" stroke="#0a6db8" stroke-width="32" stroke-dasharray="2.8 3000"/>
<path d="M300.5 1768.2H2100" stroke="#3aa8e0" stroke-width="32" stroke-dasharray="17.3 1331.3 1.9 16.5 4 9 4 5 2 7 7.5 2 0.7 137.5 2.5 4 4 6 1.5 3 14.6 3000"/>
<path d="M1732.7 1768.2H2100" stroke="#f4a582" stroke-width="32" stroke-dasharray="1.9 36.6 1 7 3 4 1 11 1 3.5 1 5 1 3 1.7 3000"/>
<path d="M1848.6 1768.2H2100" stroke="#a3d5f5" stroke-width="32" stroke-dasharray="4 4 6 1.5 3 3000"/>
<path d="M204.4 1818.3H2100" stroke="#b9c3cd" stroke-width="32" stroke-dasharray="1 1.4 0.7 2.2 1.6 4.4 1 2.3 1.6 2.4 1 3 1.3 3.3 1 1.5 1 3 1.3 2.1 1 3.4 1 1.7 1.3 3.2 1 2.8 1 2.6 1.6 4.6 1.3 2.1 1.6 348.7 1 17.3 1 634.4 1 161.5 1 38.4 1 3000"/>
<path d="M257.3 1818.3H2100" stroke="#c96a4e" stroke-width="32" stroke-dasharray="1 8.7 1 417.3 2 726.3 1 0.8 0.3 69.2 1 268.2 1 4 2.7 3000"/>
<path d="M317.8 1818.3H2100" stroke="#e8602a" stroke-width="32" stroke-dasharray="6 0.7 11 1.4 0.1 21.1 2 1.1 1 10.3 1.5 0.8 1.5 0.8 2 0.6 2 19.6 6 0.9 4 0.2 4 0.3 3.8 7.7 1 219.2 1 4.8 1.9 27 1 3 7.5 69.2 3 2.9 1.8 75 2 0.4 4 7 1 2 3 3 3.5 1.5 2 6.1 9.6 22.9 1 3.8 1 30.9 5.8 42.3 1.5 0.8 2 1 0.5 11.5 1 11.5 1 53.8 11 1 11 1.3 3 0.5 4 0.3 1.5 59.6 2 55.7 5.8 6.7 1 335.5 1.9 113.4 9 3 2.5 1 3.5 1.5 1.5 3000"/>
<path d="M348.6 1818.3H2100" stroke="#8e99a6" stroke-width="32" stroke-dasharray="1 44.2 2.9 280.7 2 1.3 1.5 100.9 1 120.2 1 5.8 2 3.4 2 5.1 0.7 3.9 0.2 192.2 1 1.9 1.6 3000"/>
<path d="M350.4 1818.3H2100" stroke="#f4a582" stroke-width="32" stroke-dasharray="1.6 3.5 0.7 504.7 1 5 2 8 2.2 248.8 1.6 5.1 0.2 275.9 1 114.3 1 181.1 3 10 0.1 3000"/>
<path d="M682.1 1818.3H2100" stroke="#5c6672" stroke-width="32" stroke-dasharray="1 1 1 240.3 1 3000"/>
<path d="M707.1 1818.3H2100" stroke="#3aa8e0" stroke-width="32" stroke-dasharray="11.5 3000"/>
<path d="M718.6 1818.3H2100" stroke="#8a1811" stroke-width="32" stroke-dasharray="12.5 1006.4 16.3 1 4 3000"/>
<path d="M204.4 1868.3H2100" stroke="#b9c3cd" stroke-width="32" stroke-dasharray="1.6 5.3 1.3 2.3 1.6 2.1 0.7 1.3 0.7 1 1.3 5.4 1 1.3 0.7 6.3 0.7 1.5 1 6.8 1.3 1.6 1 1.3 0.7 1.8 1 2.1 1.6 8.1 0.7 1.3 0.8 271.1 1 16.3 1 351.8 1 309.5 1 20.2 1 420 1 75.9 1.5 7.4 0.7 3000"/>
<path d="M209.0 1868.3H2100" stroke="#8e99a6" stroke-width="32" stroke-dasharray="0.7 17 0.7 6.6 1 9.5 1 18.2 1.3 14.5 4 3.1 1.4 117.9 1 9 0.7 265.5 1 4 2.7 86.5 2 341.6 1.6 7.1 1.3 141.4 1.9 57.7 4 130.6 2 3 5.5 268.3 1.5 0.5 3 76.6 2 12.5 2.8 19.2 1 3000"/>
<path d="M247.7 1868.3H2100" stroke="#5c6672" stroke-width="32" stroke-dasharray="1 13.5 1 3000"/>
<path d="M273.6 1868.3H2100" stroke="#c96a4e" stroke-width="32" stroke-dasharray="5 6.2 1.5 9.4 3 13 1 2.5 2 23.8 2 4 1.5 2.5 3 1 2 20.4 1 5.4 1 2.3 1 1.7 0.1 121.5 0.7 171 4 233.4 1 196.1 1.3 13.8 0.7 202.5 5 244.8 0.9 4.8 4 1 5.5 5.5 2 8 2 9 1.5 8 1 116 4 15.1 3.5 51.1 1.5 0.3 5 1.5 3 3000"/>
<path d="M298.7 1868.3H2100" stroke="#e8602a" stroke-width="32" stroke-dasharray="4 1 5 1 2 2.5 1 3.5 1 19.2 2 2 4 3 1 7.5 2.6 18 3 3.1 1.5 2 1 8.9 1.3 33.3 2 1.2 0.7 183.6 3 1.5 1 2.4 1.5 0.9 1 0.5 1 1.6 2 1 1 0.3 3 1.6 1.5 0.3 1 0.5 2 0.5 1 0.2 0.3 11.5 1 78.8 1.6 11 2 0.6 1 0.6 1.5 0.6 1 0.4 3 0.7 0.1 12.4 2 67.3 2 4.8 1 14.3 1 15.4 11.5 421 4.8 2.9 3 12.3 1 62.5 59.6 3 2 26.7 1 3 7.5 25 8.7 41.3 2 17.2 1 1.5 2 2 8 2 4 1.5 2 3 8 1 2.4 60.7 5.5 2 2 1.5 1 3 6 1.5 5.3 2.9 6.7 22.1 12.5 6.5 29.1 3000"/>
<path d="M402.1 1868.3H2100" stroke="#f4a582" stroke-width="32" stroke-dasharray="1.3 4.7 1 1.6 1.3 1.4 1.3 2.8 1.6 207.5 1.5 5.7 1 95.5 0.7 0.5 1 1.5 1 5.9 0.7 5.1 0.9 104.5 2 3.1 0.9 142.3 1 10.6 1 111 1.6 9.2 1.6 362.1 3 197.9 3 5.5 2 4.5 2 61.5 3 62.7 1 0.8 2 1 1.5 1.1 1.5 0.9 2 1.2 1.5 3000"/>
<path d="M509.1 1868.3H2100" stroke="#8a1811" stroke-width="32" stroke-dasharray="1 2.9 1.6 197.3 16.3 144.2 2.9 643 10.6 61.5 1 4 1 5.5 1 38.4 1.9 108.6 3 4 2.6 48.1 14.4 3000"/>
<path d="M689.8 1868.3H2100" stroke="#3aa8e0" stroke-width="32" stroke-dasharray="22.1 564.3 3 2 9 2 1 2 17.4 38.4 32.7 83.7 1 7.5 0.1 32.7 9.6 3000"/>
<path d="M1273.3 1868.3H2100" stroke="#a3d5f5" stroke-width="32" stroke-dasharray="3 3 2 9 2 1 2 3000"/>
<path d="M204.4 1918.4H2100" stroke="#b9c3cd" stroke-width="32" stroke-dasharray="1 1.7 1 2.8 1.6 3.1 1.3 1.6 1 1.5 1.3 2.8 1 2.7 1.6 5.3 1 2.5 1.3 2 0.7 0.9 1.6 2.7 1 2.7 1 2.5 1 3.4 0.7 92 3 2.6 0.7 2.7 1.6 6.5 1.6 131.1 1 133.6 1 511.4 1 39.4 1 3000"/>
<path d="M223.6 1918.4H2100" stroke="#c96a4e" stroke-width="32" stroke-dasharray="1 8.7 1 18.3 1 46.7 5 11 1.5 386.6 1 607.1 2 1.5 2 3.5 4 4 2 2 0.5 3000"/>
<path d="M268.8 1918.4H2100" stroke="#3aa8e0" stroke-width="32" stroke-dasharray="28.8 3000"/>
<path d="M297.6 1918.4H2100" stroke="#e8602a" stroke-width="32" stroke-dasharray="2.5 5 7 1 1 3.5 4 383.6 1.9 6.7 1 98 3.8 2.9 1.5 0.8 2 0.9 1 0.6 1.5 0.7 0.6 146.1 4 0.6 1.5 0.2 3 1.1 5 1.5 2 0.4 2 0.5 5 1 2 0.4 5 1.5 3 0.9 5 3.3 0.7 1 0.7 3.9 0.4 12.5 1.9 2.9 4.8 64.4 4 2.5 7 1 2.8 105.7 3.8 74.9 2 65.3 8 0.9 4 0.3 11 1.2 1.5 54.8 8 0.6 1 3000"/>
<path d="M312.1 1918.4H2100" stroke="#8a1811" stroke-width="32" stroke-dasharray="1 1 2 998.2 1.5 97.7 27.9 3000"/>
<path d="M348.6 1918.4H2100" stroke="#0a6db8" stroke-width="32" stroke-dasharray="2 5 0.7 3000"/>
<path d="M350.6 1918.4H2100" stroke="#8e99a6" stroke-width="32" stroke-dasharray="2 674.9 1.3 37.8 1.6 3.5 0.7 16.3 1 159.6 0.7 1.5 0.7 0.8 1 3000"/>
<path d="M439.9 1918.4H2100" stroke="#f4a582" stroke-width="32" stroke-dasharray="1 8.7 1 390.2 1 3.8 1 276.6 1 209.8 1.3 2 1.6 2.5 0.3 3000"/>
<path d="M1307.9 1918.4H2100" stroke="#6e1a14" stroke-width="32" stroke-dasharray="3 14.5 3 3 2 3000"/>
<path d="M1362.6 1918.4H2100" stroke="#5c6672" stroke-width="32" stroke-dasharray="1 529.6 1 0.8 1.1 3000"/>
<path d="M406.3 1968.4H2100" stroke="#c96a4e" stroke-width="32" stroke-dasharray="4 1 1 154.5 2.9 72.1 2 3 3 6 3 5 2.5 396.5 3.8 191.9 4 1.5 4 29.5 4 397.6 2.9 178.1 4 4 1.5 10 3 1.3 1.5 4.5 2 3000"/>
<path d="M410.3 1968.4H2100" stroke="#e8602a" stroke-width="32" stroke-dasharray="1 2.5 2.1 10 2 2.4 9 70.8 8 0.8 4 0.4 6 0.8 4 0.2 3 0.4 3 0.2 3 0.5 6 69.2 1 0.9 1.5 1 3 5.1 1 10.7 3 4.5 2 5.5 2 1.5 1.5 28.9 16.3 9.6 1 3.8 1 13.5 9.5 3 3.8 39.4 1 149.9 2 2.5 2 139.6 1 27.5 2 4.2 2 1 1 9.3 7.7 2.9 1 89.4 1.5 1.5 1.8 10.6 3.5 4 1.5 4 3.3 46.1 6 0.6 11 1.3 4.1 26.9 5 1.5 2 3 4 3 5.5 1 3 1.5 1 2 5 1.5 3 3 5.5 3 7 2 3.5 1 4 1 4 1.5 2 2.5 2.6 22.5 2 1.5 2 5 1 0.8 1 5.2 1.2 147.1 7.7 224.9 6 4 3 2.5 5 1 3 4 1.3 3000"/>
<path d="M415.9 1968.4H2100" stroke="#3aa8e0" stroke-width="32" stroke-dasharray="10 2 2.4 237.4 25 578.6 9.6 632.5 14.4 3000"/>
<path d="M439.3 1968.4H2100" stroke="#8e99a6" stroke-width="32" stroke-dasharray="0.6 139.4 1 25 1 1115 1 148 1.9 3000"/>
<path d="M439.9 1968.4H2100" stroke="#8a1811" stroke-width="32" stroke-dasharray="9 1 14 189.3 1.5 411.9 2.9 211.5 16.5 4 11.2 63.3 2 5 3 12 2 9.5 2 6.5 2 8 1 18 1 457.3 4.5 2 1.6 3000"/>
<path d="M448.9 1968.4H2100" stroke="#f4a582" stroke-width="32" stroke-dasharray="1 372.6 1 294.1 1 3 3 5.4 1 0.4 0.6 18.3 0.9 89.9 1.5 211.3 1 0.9 1 16.4 1 7.8 2 4.9 3 79.4 1.5 1.9 2 1.9 0.4 308.1 1 3000"/>
<path d="M569.7 1968.4H2100" stroke="#0a6db8" stroke-width="32" stroke-dasharray="7.7 89.9 0.5 79.7 0.1 322 6.7 3000"/>
<path d="M711.0 1968.4H2100" stroke="#5c6672" stroke-width="32" stroke-dasharray="1 0.9 1 331.6 1 3000"/>
<path d="M1559.7 1968.4H2100" stroke="#b9c3cd" stroke-width="32" stroke-dasharray="1 3000"/>
<path d="M406.3 2018.5H2100" stroke="#e8602a" stroke-width="32" stroke-dasharray="2 7 2 5 8 1.5 3.3 2 2 2 4 3 2 2 1 6 4 3 1.5 3 1 90.4 12.5 11.4 0.1 46.1 4.8 12.5 3 2 2 1.1 1 1 1.5 1.4 1.5 2.1 1 0.9 1 1.1 1 1.4 1 1.2 1 1.3 0.4 50.9 1 174.9 8 5.5 4 1 1.5 1.5 2.5 5.5 3.5 1.5 1 4.5 0.4 4.8 1 3.8 1 0.4 1.5 46.3 0.8 41.3 2 2 1 0.9 2 1 1.5 1 1.1 23.1 1 1 2 1.5 1.5 2 0.6 50.9 1 263.4 2 1.6 1.5 2.1 2 77.3 2.9 11.5 3 0.4 6 0.6 3 0.4 8.8 40.4 1 0.6 1.5 1 1 0.9 1.5 1.3 2 0.8 1 0.6 1 0.6 1 6.2 4 1.3 4 1.4 2 0.4 1.5 0.3 1.6 31.7 2 12.4 1.9 19.2 3 4.7 5 3.5 1.5 0.5 1 4.8 1 23.1 1.9 79.9 1 3000"/>
<path d="M409.8 2018.5H2100" stroke="#f4a582" stroke-width="32" stroke-dasharray="4 4.5 4 455.4 1 5.5 1.3 2.9 0.7 24.6 4 12 4 7.5 2 123.4 2.9 25.6 1 3.6 0.7 5.7 1.6 3000"/>
<path d="M435.1 2018.5H2100" stroke="#8a1811" stroke-width="32" stroke-dasharray="2 2 2 4 3 5 6 4 3 1.5 3 1 8.7 49 32.7 20.2 3 886.1 21.1 163.4 19.2 75 8 4 9.1 6.3 3 7 5.5 3 3 2 1 5 7 1 1 2.5 9 3 3.5 3000"/>
<path d="M450.1 2018.5H2100" stroke="#c96a4e" stroke-width="32" stroke-dasharray="2 547.2 4 78.7 1 2 1.5 1.5 2 373.6 2 4 1.7 207.6 3 7.5 1.5 67.1 4 19.5 6 5.5 3 3 2 1 1 3 1 7 1 2 1.5 10.5 1.5 3.5 2 16.9 4 7.4 1.1 3000"/>
<path d="M480.3 2018.5H2100" stroke="#3aa8e0" stroke-width="32" stroke-dasharray="49 1307.2 16.3 8.7 2 3000"/>
<path d="M685.0 2018.5H2100" stroke="#8e99a6" stroke-width="32" stroke-dasharray="0.7 1.4 1.6 2.4 0.6 183.6 0.7 5.4 0.7 8.3 1.3 88.4 1 6.7 1 102.8 1.3 5 0.7 2.9 1 1.8 1 327.6 0.7 1.3 1.3 2.3 1 17.5 1 2.2 1 4.5 4 155.5 1 18.1 3 3.5 0.4 88.4 3 0.7 1 0.4 2 1.2 2.2 21.1 4.8 81.8 3 3000"/>
<path d="M1776.0 2018.5H2100" stroke="#6e1a14" stroke-width="32" stroke-dasharray="1.5 3 1 21.5 2 11 1 10.5 1.5 7 0.6 3000"/>
<path d="M276.5 2068.5H2100" stroke="#8e99a6" stroke-width="32" stroke-dasharray="1.6 22.4 1.6 6.2 1 20.1 1 30.8 1.5 12.9 4 7 2 7 1.1 34.6 1 461.4 1 482.5 2 8.5 4 2 1 33.1 3 14 2 12.1 4.8 291.2 1.5 2.1 1.5 1.3 1 1 1 112.7 4.8 3000"/>
<path d="M363.9 2068.5H2100" stroke="#a3d5f5" stroke-width="32" stroke-dasharray="1 6.3 1 3.1 0.2 3000"/>
<path d="M366.1 2068.5H2100" stroke="#f4a582" stroke-width="32" stroke-dasharray="1.5 1.2 1.5 2.6 1 361.1 2 552.7 4 218.6 1 0.7 2 9.9 1 2.5 1.4 234.8 0.6 3000"/>
<path d="M380.5 2068.5H2100" stroke="#5c6672" stroke-width="32" stroke-dasharray="3 3000"/>
<path d="M384.5 2068.5H2100" stroke="#c96a4e" stroke-width="32" stroke-dasharray="1 4.5 1.5 1 3 1.1 2 3.5 1.5 115.1 1 1.7 1 1 0.7 372.3 1 485.6 1.5 2 1 4 2 355.5 2.8 19.2 2 1 4 3 1.5 23.2 5 2.5 1 1.5 2.5 8 2.5 57.9 3 1.5 7.5 3000"/>
<path d="M398.6 2068.5H2100" stroke="#e8602a" stroke-width="32" stroke-dasharray="3.5 1.5 33.4 291.2 2 1.6 2 10.7 1 35.6 3 2.6 1.1 53.8 4.8 69.2 4.8 363.3 5 5.6 82.7 2 4 1.5 2 8 1.7 2 2 4 1 1 3 7 1 7.8 1 7.5 3 4 4 2 0.6 42.3 14.4 2.9 2 0.9 1.5 5.9 3 2.4 2 2.9 1.5 9.6 1.9 12.3 1 1.5 1 6.5 1 6.5 2 23.9 1 0.9 1 0.8 2 2.6 2 2.9 1 0.6 1.5 1 2 1.4 0.5 84.6 8 0.9 4 0.4 8 1.3 3 0.3 0.1 11.5 1.5 0.4 3 1.1 3 72.9 5 58.3 1 3000"/>
<path d="M408.2 2068.5H2100" stroke="#0a6db8" stroke-width="32" stroke-dasharray="1 13.5 1 3000"/>
<path d="M760.0 2068.5H2100" stroke="#b9c3cd" stroke-width="32" stroke-dasharray="1 1149.6 1 18.3 1 3000"/>
<path d="M1396.3 2068.5H2100" stroke="#3aa8e0" stroke-width="32" stroke-dasharray="2 2 4 1 1 3 7 1 5.9 40.4 26 293.2 20.2 3000"/>
<path d="M1426.1 2068.5H2100" stroke="#8a1811" stroke-width="32" stroke-dasharray="1.5 3 3 3 4 104.7 7.5 1 1.5 2.5 5 5 2.5 2 3 227.6 3 5 1 6.5 2 78.3 5.1 3000"/>
<path d="M1556.3 2068.5H2100" stroke="#6e1a14" stroke-width="32" stroke-dasharray="1.5 6 4 7.5 0.8 197.1 1 4 3 30.7 1.5 1 1.5 4.5 1 60.3 3 3000"/>
<path d="M204.4 2118.6H2100" stroke="#8e99a6" stroke-width="32" stroke-dasharray="0.7 3.6 1.3 2.4 1.6 3.5 1 1.4 0.7 8 1.3 3.3 1 1.8 1.3 3.6 1 3.8 1 3.4 1.6 0.7 1 4.2 0.7 5.8 1 1.3 0.7 0.6 1.6 4.8 1 1.6 1 5.5 1 3 1 5.6 2 196.9 1 2.3 0.7 7.5 0.7 2.4 1.6 12.6 1 321 1 3.5 0.3 30.5 2.8 6 3 82.7 2.9 207 4 9 2 58.7 1 90.4 1 135.5 1 189.4 1 3000"/>
<path d="M206.5 2118.6H2100" stroke="#b9c3cd" stroke-width="32" stroke-dasharray="1 14.1 1 1.4 1 0.8 1 5.1 1 21.6 1.3 3.7 1.6 10.2 1 7.1 0.7 0.8 1.3 2.8 0.7 4.1 1 62.5 1 35.6 1 34.6 1.6 233.9 1 157.6 1.3 2 1.5 99 1 200.9 1 380.6 1 237.4 2 52.8 1 3000"/>
<path d="M239.5 2118.6H2100" stroke="#5c6672" stroke-width="32" stroke-dasharray="0.7 3.4 0.7 3.8 0.7 245.8 0.7 795.3 1 224.9 1 148 1 0.7 2 1.8 1.2 3000"/>
<path d="M290.9 2118.6H2100" stroke="#c96a4e" stroke-width="32" stroke-dasharray="3 2 4.6 444.5 1 8.2 1 95.2 4 9 3 140.6 1 105.5 1 62.2 1 1 4.5 4 1 4 4 2 1 4 1 4 2 25 2 0.4 4 2.5 2 63.6 2 43.2 5 2 0.7 329.7 4.5 1 1 5 5.5 38.5 4 0.9 3 1 4 3000"/>
<path d="M300.5 2118.6H2100" stroke="#e8602a" stroke-width="32" stroke-dasharray="9.6 14.4 3 2 2.7 64.4 1 130.7 4 2.5 2 1 3 2 3 2 11.5 1.5 5 1 5 3.5 11 40.9 0.1 112.5 1.6 5.5 0.6 50 11 37.3 1 1.7 2 4 1 1.5 4 1.5 1 4 3 1 3 300.9 1.5 1 1 9.5 4 167.7 2 329.4 1 4.5 1 1 5 5.5 1.2 3000"/>
<path d="M327.6 2118.6H2100" stroke="#f4a582" stroke-width="32" stroke-dasharray="2 202.8 1 7.5 2 3 2 25.5 2 45.3 1.6 2.2 1.3 1052.3 1.6 3000"/>
<path d="M587.0 2118.6H2100" stroke="#3aa8e0" stroke-width="32" stroke-dasharray="33.6 489.3 2 129.8 2.5 2 1.1 64.5 0.9 397.9 34.6 3000"/>
<path d="M874.4 2118.6H2100" stroke="#a3d5f5" stroke-width="32" stroke-dasharray="4.5 3000"/>
<path d="M881.6 2118.6H2100" stroke="#0a6db8" stroke-width="32" stroke-dasharray="6 3 3 3000"/>
<path d="M1199.2 2118.6H2100" stroke="#8a1811" stroke-width="32" stroke-dasharray="4 1 4 2 25 2 0.4 3000"/>
<path d="M204.4 1100.3V2163" stroke="#1d1d1b" stroke-width="5" stroke-linecap="round" stroke-dasharray="0 16.55"/>
<path d="M300.5 1100.3V2163" stroke="#1d1d1b" stroke-width="5" stroke-linecap="round" stroke-dasharray="0 16.55"/>
<path d="M396.6 1100.3V2163" stroke="#1d1d1b" stroke-width="5" stroke-linecap="round" stroke-dasharray="0 16.55"/>
<path d="M492.8 1100.3V2163" stroke="#1d1d1b" stroke-width="5" stroke-linecap="round" stroke-dasharray="0 16.55"/>
<path d="M588.9 1100.3V2163" stroke="#1d1d1b" stroke-width="5" stroke-linecap="round" stroke-dasharray="0 16.55"/>
<path d="M685.0 1100.3V2163" stroke="#1d1d1b" stroke-width="5" stroke-linecap="round" stroke-dasharray="0 16.55"/>
<path d="M781.1 1100.3V2163" stroke="#1d1d1b" stroke-width="5" stroke-linecap="round" stroke-dasharray="0 16.55"/>
<path d="M877.2 1100.3V2163" stroke="#1d1d1b" stroke-width="5" stroke-linecap="round" stroke-dasharray="0 16.55"/>
<path d="M973.4 1100.3V2163" stroke="#1d1d1b" stroke-width="5" stroke-linecap="round" stroke-dasharray="0 16.55"/>
<path d="M1069.5 1100.3V2163" stroke="#1d1d1b" stroke-width="5" stroke-linecap="round" stroke-dasharray="0 16.55"/>
<path d="M1165.6 1100.3V2163" stroke="#1d1d1b" stroke-width="5" stroke-linecap="round" stroke-dasharray="0 16.55"/>
<path d="M1261.7 1100.3V2163" stroke="#1d1d1b" stroke-width="5" stroke-linecap="round" stroke-dasharray="0 16.55"/>
<path d="M1357.8 1100.3V2163" stroke="#1d1d1b" stroke-width="5" stroke-linecap="round" stroke-dasharray="0 16.55"/>
<path d="M1454.0 1100.3V2163" stroke="#1d1d1b" stroke-width="5" stroke-linecap="round" stroke-dasharray="0 16.55"/>
<path d="M1550.1 1100.3V2163" stroke="#1d1d1b" stroke-width="5" stroke-linecap="round" stroke-dasharray="0 16.55"/>
<path d="M1646.2 1100.3V2163" stroke="#1d1d1b" stroke-width="5" stroke-linecap="round" stroke-dasharray="0 16.55"/>
<path d="M1742.3 1100.3V2163" stroke="#1d1d1b" stroke-width="5" stroke-linecap="round" stroke-dasharray="0 16.55"/>
<path d="M1838.4 1100.3V2163" stroke="#1d1d1b" stroke-width="5" stroke-linecap="round" stroke-dasharray="0 16.55"/>
<path d="M1934.6 1100.3V2163" stroke="#1d1d1b" stroke-width="5" stroke-linecap="round" stroke-dasharray="0 16.55"/>
<path d="M188.7 1117.6H203" stroke="#1d1d1b" stroke-width="2.8"/>
<text x="156.1" y="1127.5" font-size="52.5" textLength="20.1" lengthAdjust="spacingAndGlyphs" fill="#1d1d1b" stroke="#1d1d1b" stroke-width="0.63" stroke-linejoin="round" font-family='"Liberation Sans",sans-serif'>1</text>
<path d="M188.7 1167.6H203" stroke="#1d1d1b" stroke-width="2.8"/>
<path d="M188.7 1217.7H203" stroke="#1d1d1b" stroke-width="2.8"/>
<text x="156.1" y="1227.6" font-size="52.5" textLength="23.4" lengthAdjust="spacingAndGlyphs" fill="#1d1d1b" stroke="#1d1d1b" stroke-width="0.63" stroke-linejoin="round" font-family='"Liberation Sans",sans-serif'>3</text>
<path d="M188.7 1267.8H203" stroke="#1d1d1b" stroke-width="2.8"/>
<path d="M188.7 1317.8H203" stroke="#1d1d1b" stroke-width="2.8"/>
<text x="156.1" y="1327.7" font-size="52.5" textLength="23.4" lengthAdjust="spacingAndGlyphs" fill="#1d1d1b" stroke="#1d1d1b" stroke-width="0.63" stroke-linejoin="round" font-family='"Liberation Sans",sans-serif'>5</text>
<path d="M188.7 1367.8H203" stroke="#1d1d1b" stroke-width="2.8"/>
<path d="M188.7 1417.9H203" stroke="#1d1d1b" stroke-width="2.8"/>
<text x="155.6" y="1427.8" font-size="52.5" textLength="24.4" lengthAdjust="spacingAndGlyphs" fill="#1d1d1b" stroke="#1d1d1b" stroke-width="0.63" stroke-linejoin="round" font-family='"Liberation Sans",sans-serif'>7</text>
<path d="M188.7 1467.9H203" stroke="#1d1d1b" stroke-width="2.8"/>
<path d="M188.7 1518.0H203" stroke="#1d1d1b" stroke-width="2.8"/>
<text x="155.9" y="1527.9" font-size="52.5" textLength="23.9" lengthAdjust="spacingAndGlyphs" fill="#1d1d1b" stroke="#1d1d1b" stroke-width="0.63" stroke-linejoin="round" font-family='"Liberation Sans",sans-serif'>9</text>
<path d="M188.7 1568.0H203" stroke="#1d1d1b" stroke-width="2.8"/>
<path d="M188.7 1618.1H203" stroke="#1d1d1b" stroke-width="2.8"/>
<text x="130.5" y="1628.0" font-size="52.5" textLength="46.2" lengthAdjust="spacingAndGlyphs" fill="#1d1d1b" stroke="#1d1d1b" stroke-width="0.63" stroke-linejoin="round" font-family='"Liberation Sans",sans-serif'>11</text>
<path d="M188.7 1668.1H203" stroke="#1d1d1b" stroke-width="2.8"/>
<path d="M188.7 1718.2H203" stroke="#1d1d1b" stroke-width="2.8"/>
<text x="129.4" y="1728.1" font-size="52.5" textLength="50.3" lengthAdjust="spacingAndGlyphs" fill="#1d1d1b" stroke="#1d1d1b" stroke-width="0.63" stroke-linejoin="round" font-family='"Liberation Sans",sans-serif'>13</text>
<path d="M188.7 1768.2H203" stroke="#1d1d1b" stroke-width="2.8"/>
<path d="M188.7 1818.3H203" stroke="#1d1d1b" stroke-width="2.8"/>
<text x="129.4" y="1828.2" font-size="52.5" textLength="50.3" lengthAdjust="spacingAndGlyphs" fill="#1d1d1b" stroke="#1d1d1b" stroke-width="0.63" stroke-linejoin="round" font-family='"Liberation Sans",sans-serif'>15</text>
<path d="M188.7 1868.3H203" stroke="#1d1d1b" stroke-width="2.8"/>
<path d="M188.7 1918.4H203" stroke="#1d1d1b" stroke-width="2.8"/>
<text x="129.4" y="1928.3" font-size="52.5" textLength="50.8" lengthAdjust="spacingAndGlyphs" fill="#1d1d1b" stroke="#1d1d1b" stroke-width="0.63" stroke-linejoin="round" font-family='"Liberation Sans",sans-serif'>17</text>
<path d="M188.7 1968.4H203" stroke="#1d1d1b" stroke-width="2.8"/>
<path d="M188.7 2018.5H203" stroke="#1d1d1b" stroke-width="2.8"/>
<text x="129.4" y="2028.4" font-size="52.5" textLength="50.6" lengthAdjust="spacingAndGlyphs" fill="#1d1d1b" stroke="#1d1d1b" stroke-width="0.63" stroke-linejoin="round" font-family='"Liberation Sans",sans-serif'>19</text>
<path d="M188.7 2068.5H203" stroke="#1d1d1b" stroke-width="2.8"/>
<path d="M188.7 2118.6H203" stroke="#1d1d1b" stroke-width="2.8"/>
<text x="129.9" y="2128.5" font-size="52.5" textLength="46.6" lengthAdjust="spacingAndGlyphs" fill="#1d1d1b" stroke="#1d1d1b" stroke-width="0.63" stroke-linejoin="round" font-family='"Liberation Sans",sans-serif'>21</text>
<rect x="1743.6" y="1854.3" width="190.6" height="29.2" fill="none" stroke="#1d1d1b" stroke-width="3.6"/>
<text x="145.7" y="2216.3" font-size="52.5" textLength="117.2" lengthAdjust="spacingAndGlyphs" fill="#1d1d1b" stroke="#1d1d1b" stroke-width="0.63" stroke-linejoin="round" font-family='"Liberation Sans",sans-serif'>06:00</text>
<text x="528.5" y="2216.3" font-size="52.5" textLength="118.9" lengthAdjust="spacingAndGlyphs" fill="#1d1d1b" stroke="#1d1d1b" stroke-width="0.63" stroke-linejoin="round" font-family='"Liberation Sans",sans-serif'>10:00</text>
<text x="913.0" y="2216.3" font-size="52.5" textLength="118.9" lengthAdjust="spacingAndGlyphs" fill="#1d1d1b" stroke="#1d1d1b" stroke-width="0.63" stroke-linejoin="round" font-family='"Liberation Sans",sans-serif'>14:00</text>
<text x="1297.5" y="2216.3" font-size="52.5" textLength="118.9" lengthAdjust="spacingAndGlyphs" fill="#1d1d1b" stroke="#1d1d1b" stroke-width="0.63" stroke-linejoin="round" font-family='"Liberation Sans",sans-serif'>18:00</text>
<text x="1683.2" y="2216.3" font-size="52.5" textLength="117.7" lengthAdjust="spacingAndGlyphs" fill="#1d1d1b" stroke="#1d1d1b" stroke-width="0.63" stroke-linejoin="round" font-family='"Liberation Sans",sans-serif'>22:00</text>
<text x="1000.0" y="2289.2" font-size="52.5" textLength="78.2" lengthAdjust="spacingAndGlyphs" fill="#1d1d1b" stroke="#1d1d1b" stroke-width="0.63" stroke-linejoin="round" font-family='"Liberation Sans",sans-serif'>Zeit</text>
<text transform="translate(106 1659.6) rotate(-90)" font-size="54" textLength="77" lengthAdjust="spacingAndGlyphs" fill="#1d1d1b" stroke="#1d1d1b" stroke-width="1.1" font-family='"Liberation Sans",sans-serif'>Tag</text>
<path d="M207.1 2379.3H2100" stroke="#5c6672" stroke-width="78.6" stroke-dasharray="8.1 2 4.5 1.5 1 0.5 2.1 4 15.4 1.8 1.5 2 2 1.5 8.6 2.1 8.8 1 5.3 3 15.9 1.8 2 1.8 2.7 5.6 6.1 5.8 6.5 5.9 1 1.3 1.7 577 3.1 1.5 7.7 32.5 1.8 6.5 3.4 28.8 5.5 46 3.7 16.8 4.2 685.1 1.5 26 1.5 3000"/>
<path d="M215.2 2379.3H2100" stroke="#c96a4e" stroke-width="78.6" stroke-dasharray="2 742.8 3.7 39.5 1 5.5 1.8 1.5 6.8 1 3.1 35.5 3 1 2 15 4 2 0.8 9.6 2 27.9 5 36.2 1 3000"/>
<path d="M221.7 2379.3H2100" stroke="#e8602a" stroke-width="78.6" stroke-dasharray="1.5 1 0.5 5.1 1 18.7 2 48.2 1.8 2 1.8 30.6 2 1 1.3 4.2 13.4 58.1 6.8 5.8 13.7 0.8 111 1 4 20.1 3.1 5.8 1.5 0.7 1.6 4.2 10.9 3.8 7.6 2.5 3.2 5.6 5.6 20.5 62.8 1.3 12.9 1.7 24.3 105.3 1.5 75 12.4 12.6 4.3 17 4.6 3.8 8 8.3 1.5 13 14.8 24.7 8.7 13 3.1 8.5 1 4 4 2.5 13.9 12.4 7.7 3 4 3000"/>
<path d="M228.3 2379.3H2100" stroke="#f4a582" stroke-width="78.6" stroke-dasharray="1.5 16.4 1.8 84 2.6 601.9 1.5 0.3 2.2 13 1.5 14.8 2.2 10.2 1.8 56.8 2 47.5 2 31.9 2.5 5 2.3 10.3 3 4 3.8 3000"/>
<path d="M274.5 2379.3H2100" stroke="#0a6db8" stroke-width="78.6" stroke-dasharray="1 798.7 2 3000"/>
<path d="M281.5 2379.3H2100" stroke="#b9c3cd" stroke-width="78.6" stroke-dasharray="1.8 40.4 1.8 17 1.9 3000"/>
<path d="M357.8 2379.3H2100" stroke="#8a1811" stroke-width="78.6" stroke-dasharray="58.1 6.8 5.8 13.7 0.8 111 1 4 20.1 3.1 5.8 1.5 0.7 1.6 4.2 10.9 3.8 7.6 2.5 3.2 5.6 5.6 20.5 62.8 1.3 12.9 1.7 24.3 105.3 1.5 43 46.8 4.7 31.4 3.8 3000"/>
<path d="M933.4 2379.3H2100" stroke="#8e99a6" stroke-width="78.6" stroke-dasharray="2.5 83.9 1 26.2 3.1 12.3 1 2 0.1 18.9 2 9.4 1 3 4 4 2.5 55.6 2 1 2.2 43.6 1.8 3000"/>
<path d="M975.4 2379.3H2100" stroke="#a3d5f5" stroke-width="78.6" stroke-dasharray="6.8 60.6 4.2 3.1 5.6 36.6 1.7 61.1 10.8 5.2 4.9 3000"/>
<path d="M1741 3950L1935 3950L1795 4405L206 4405Z" fill="#f2f2f2"/>
<path d="M1444.3 3182.6H2100" stroke="#3aa8e0" stroke-width="32" stroke-dasharray="25 1.9 26 153.8 4 1.1 2 3000"/>
<path d="M1528.9 3182.6H2100" stroke="#b9c3cd" stroke-width="32" stroke-dasharray="0.7 1 1 266.5 1 3000"/>
<path d="M1646.2 3182.6H2100" stroke="#a3d5f5" stroke-width="32" stroke-dasharray="4 8.2 2 0.6 2 0.7 4 0.6 4 1.5 3.3 1.4 2 1.2 3 2.8 1.5 0.9 3 2 1.5 1.1 1 0.6 1 0.4 1 3000"/>
<path d="M1705.8 3182.6H2100" stroke="#8e99a6" stroke-width="32" stroke-dasharray="1.6 3.2 0.7 1.4 1.6 5.9 1 96.1 1 1.8 1.3 1 1.3 2.1 1 3000"/>
<path d="M250.5 3232.7H2100" stroke="#e8602a" stroke-width="32" stroke-dasharray="6.7 1.9 1.3 5.4 1.6 6.8 1.3 12.5 2.9 9.6 7.8 1 4 2 2 6 7 1 3 5.5 2 1.5 2 3 8 1 2 4 3.5 4.5 2 8 1.5 1 6 1.5 3 2.3 6.7 2.9 1 8.7 1.5 1 2 5.1 2 1.8 1 6.7 2 0.5 5 442.3 1 21.7 7 102 4.8 336.5 3 40.2 2.9 14.4 4.8 170.1 1.5 1.5 7 3 11 70.2 1 2 1 4 1.6 3000"/>
<path d="M262.3 3232.7H2100" stroke="#8e99a6" stroke-width="32" stroke-dasharray="1 1.3 0.7 5.2 1.6 36.2 1 4 2 6 2 14 1 29.5 2 6 4 540.7 1 79.9 0.9 7.7 1 46.4 1 163.1 0.7 1.2 1.3 6.4 1 83.9 4 14.5 1 11 2 14.6 3 3 4 7 2 4.5 1.5 51.7 2 3.1 5 4.3 5 22.9 4 64.2 1 20.2 5 3.8 1.5 7.4 1.5 56 4 4 1.4 5.5 4 8.5 1 9 1 110.4 1 1.9 1 0.8 0.7 3000"/>
<path d="M317.3 3232.7H2100" stroke="#f4a582" stroke-width="32" stroke-dasharray="4 13 3 8 2 12 4 11 1.5 19.5 1.3 632.5 1.9 62.5 4 344.6 2 3000"/>
<path d="M430.3 3232.7H2100" stroke="#3aa8e0" stroke-width="32" stroke-dasharray="6.7 541.2 1 68.2 1 232.2 9 1 4 1.5 2 1.5 6 1 3 0.3 3 1.5 1.5 4 4 4.5 6 1 1 1.5 3.5 2 1 4 4.5 5.1 2 13 2 85.7 1.5 2 2 6.8 1.5 0.2 3 9.2 2 6.5 4 2.9 4 0.7 2.9 4.8 1 68.2 4 3.1 4.5 24 22.1 14.4 2 1.5 2 4 8.5 1 2 3 4 3 1 1.5 0.1 9.6 9.6 3000"/>
<path d="M908.0 3232.7H2100" stroke="#c96a4e" stroke-width="32" stroke-dasharray="1.5 7 2.1 80.7 2 36.4 1 16.3 1.5 2.5 0.8 37.6 0.8 21.1 1 204.9 2 15 1 1 2 11 0.6 8 1.5 7.5 5 3.5 2 2.5 6.5 56.4 1.5 0.2 1.4 8.2 1.5 2.7 5 28.4 2 75.6 2 2.5 1.5 22.9 1 37.1 2 4 4 3.4 1.5 17.5 3 5 2 1 1.5 1.1 2 1 4 3000"/>
<path d="M1261.7 3232.7H2100" stroke="#5c6672" stroke-width="32" stroke-dasharray="1 378.7 3 157.2 0.4 3000"/>
<path d="M1279.0 3232.7H2100" stroke="#b9c3cd" stroke-width="32" stroke-dasharray="1.5 46.8 1 24.5 3 122.6 3 7.9 5 36.6 1 32.7 1 160.5 1 101.9 1 3000"/>
<path d="M257.3 3282.7H2100" stroke="#b9c3cd" stroke-width="32" stroke-dasharray="1 95.2 1 49 1 256.6 1 556.5 1 90.4 1.5 1.2 1.5 303.4 1 6.7 1 134.1 4 3.5 1.5 18 2 3000"/>
<path d="M415.9 3282.7H2100" stroke="#e8602a" stroke-width="32" stroke-dasharray="1.5 0.4 2 5.7 1 0.9 1 1.6 1 1.6 1.3 2.4 1 1.4 1.1 9.6 1 1 2 5.6 1.5 0.7 2 0.8 1.5 0.4 1 0.6 3 0.7 1 0.3 0.9 4.8 5 1.8 4 3.7 6 0.9 6 0.8 11 1.5 2.6 7.7 3.8 603.1 2 2 4 10.5 1.2 115.3 19.2 2.9 3 3.5 1 2 2 3 1.8 276.8 6.7 4 1 5 1 3.4 1 3000"/>
<path d="M420.5 3282.7H2100" stroke="#3aa8e0" stroke-width="32" stroke-dasharray="2.1 709.2 2 5.5 1 4 4 3 1 114.3 3 26.9 3.5 5 3 87.2 36.7 32.8 1.5 8.5 2 2 2 1.5 2 3 2 4.5 2 1.5 9 1 3.5 1 3 4.5 4.5 1.5 38.4 1.9 21.1 170.5 1 7.5 2 3.5 4 1.5 3 24.5 0.7 9.6 2 3000"/>
<path d="M489.6 3282.7H2100" stroke="#f4a582" stroke-width="32" stroke-dasharray="3.1 634.5 3 22 1.5 3000"/>
<path d="M1098.3 3282.7H2100" stroke="#8e99a6" stroke-width="32" stroke-dasharray="1.5 4.9 1 7 1 155.8 1.8 115.3 3 0.6 4 76.3 4 2 2 10.5 3 3.5 1.5 13.5 1 4 2 144.9 1 78.8 0.7 0.6 1.6 3.9 7 2 1 10 2 8.5 4 1 2.5 2 4 7 4 12.3 3 1.5 2 1.5 2.5 1.9 1 3000"/>
<path d="M1101.2 3282.7H2100" stroke="#c96a4e" stroke-width="32" stroke-dasharray="2 21.1 3 3 1.5 3.5 1 13 2 2.5 1 146.2 2 158.7 2 4 2 15.5 2 36.5 1.5 269 3 3000"/>
<path d="M1593.3 3282.7H2100" stroke="#8a1811" stroke-width="32" stroke-dasharray="4 1 5 1 0.5 199.9 9.6 3000"/>
<path d="M1747.1 3282.7H2100" stroke="#5c6672" stroke-width="32" stroke-dasharray="2 48 2 3000"/>
<path d="M257.3 3332.8H2100" stroke="#b9c3cd" stroke-width="32" stroke-dasharray="1 138.4 1 30.8 1.3 214 1 573.8 1 13.5 1 82.7 0.7 1.1 1 9.6 1 5.8 1 124 1 3000"/>
<path d="M413.9 3332.8H2100" stroke="#e8602a" stroke-width="32" stroke-dasharray="1.9 26 2 3.5 3 4 2 2.5 3 1 2 3 4 3 4 9 2 2.9 6 1 3 0.3 6 0.5 4 0.4 4 0.4 11 1.1 0.7 151.9 6 0.8 8 1.3 0.3 173 3 2.5 1 1 2 1 1 7.7 1 57.8 6.5 5.5 2 1.5 2.6 199.9 4 0.5 8 0.8 11 0.8 1 64.4 1 2 2 0.8 2 6.5 1.5 7.5 4 1.5 1 223.5 2 5 2 17.4 4 7.5 0 10.5 2 2 4 3000"/>
<path d="M434.0 3332.8H2100" stroke="#f4a582" stroke-width="32" stroke-dasharray="1 2.3 1 7 2 3 4 3.5 1 6 3 5 2 4 3 2 4 46.3 1 659.4 5 1.4 0.3 308.9 1 21.7 2 3000"/>
<path d="M481.8 3332.8H2100" stroke="#8e99a6" stroke-width="32" stroke-dasharray="1 8.5 1.4 454.6 1 289.3 1 169.2 1 192.2 4 3 2 5 2 1 1 4.5 3 3000"/>
<path d="M948.4 3332.8H2100" stroke="#3aa8e0" stroke-width="32" stroke-dasharray="2 6.5 5.5 305.2 1.5 19.5 1.9 209.5 3 12 4 31 2 1.5 7 2 2 4 4 1.5 6 1 7 0.4 2 1 4 2.5 3 5 2 12.5 3 4.5 2 3 4 1 1 1 3 3000"/>
<path d="M964.4 3332.8H2100" stroke="#c96a4e" stroke-width="32" stroke-dasharray="1.5 293.9 2 2 0.8 4.5 4 1.5 3 1.5 2 223 1.5 1.5 3 4 1 7.5 8 4.2 0.9 6.9 7.5 45.5 1.5 14 4 4 1.5 9.5 3 10 0.3 3000"/>
<path d="M1492.4 3332.8H2100" stroke="#8a1811" stroke-width="32" stroke-dasharray="1.9 36.5 1.9 3000"/>
<path d="M1643.3 3332.8H2100" stroke="#5c6672" stroke-width="32" stroke-dasharray="2.9 3000"/>
<path d="M1754.8 3382.8H2100" stroke="#3aa8e0" stroke-width="32" stroke-dasharray="1.9 3000"/>
<path d="M1845.2 3382.8H2100" stroke="#b9c3cd" stroke-width="32" stroke-dasharray="1 3000"/>
<path d="M1920.1 3382.8H2100" stroke="#8e99a6" stroke-width="32" stroke-dasharray="1 3000"/>
<path d="M257.3 3432.8H2100" stroke="#b9c3cd" stroke-width="32" stroke-dasharray="1 101.9 1 1.5 1 1.4 1 0.8 2 2 1 0.8 3 3.5 2 2.4 2 1.1 0.5 264.3 1 85.5 1 8.7 1 93.2 1 37.5 1 46.1 1 100.9 1 39.4 1 136.5 1 5.8 1 19.9 2 2.1 3 10 4 49.3 1 535.5 1.5 3 3.5 3 1.5 5.5 4 4 4 7 2 1.5 4 18 3.8 22.5 2 3000"/>
<path d="M399.5 3432.8H2100" stroke="#e8602a" stroke-width="32" stroke-dasharray="1 7.7 2.9 9.6 1 3.2 1.6 1.4 10.2 6.7 1 9.9 3 6.3 1 0.4 3 44.5 2 1.1 1 10.5 3 0.3 6 0.8 4 0.3 4 0.4 5.3 582.5 3.8 36.5 4 10.2 0.2 408.5 17.3 4.8 8.7 4.8 9.6 44.2 3.8 3000"/>
<path d="M422.7 3432.8H2100" stroke="#8e99a6" stroke-width="32" stroke-dasharray="0.7 35.9 1 10.1 3 110.2 0.4 496.9 1 163.9 1.5 14.3 1 3.1 1 0.5 2 2.1 3 4.5 2 27.2 1 2.8 1.3 38.9 5.7 4 2 35.5 3 25.3 4 269.4 1 1.1 2 2.8 1 1.2 0.5 5.8 4 25.4 5 7 3 0.6 0.2 19.6 5 1.7 1.5 0.5 4 0.8 3 33.2 7.6 1 2 1.5 3 4.5 1 6 2 5 1.5 5.5 1.5 1.5 4 7.5 1.5 1 5.5 6 4 5.3 2 1.5 2 4 4 2 1.5 1.5 2.5 3.5 0.8 3000"/>
<path d="M454.3 3432.8H2100" stroke="#f4a582" stroke-width="32" stroke-dasharray="1 5.6 3 45.2 3 6.4 1.2 609.4 1 50.6 5 1.3 2 3000"/>
<path d="M582.2 3432.8H2100" stroke="#c96a4e" stroke-width="32" stroke-dasharray="1.5 139.8 1 194.2 1 3 1.5 426.1 2 5.7 4 25 4 14.5 1.5 13.5 4 328.2 4 46 0.4 3.5 1 5 1.5 4.5 3 4.5 1 2 2 91.9 1 3000"/>
<path d="M912.8 3432.8H2100" stroke="#5c6672" stroke-width="32" stroke-dasharray="1 826.6 4 3000"/>
<path d="M919.6 3432.8H2100" stroke="#3aa8e0" stroke-width="32" stroke-dasharray="3 1.5 1.2 171.1 1.9 134.3 1.5 13.5 3 13.1 1 18.4 3 79.2 4 1 2 1 3 1.5 5 1 2 6 1.5 1 1.5 1.5 2 4 2 1.5 2 1.5 5.2 10.3 1.5 4.9 3 0.5 0.9 139.4 22.1 45.2 20.2 1.9 22.1 34.3 5 1.6 3 0.4 3 0.8 4 0.6 0.3 38.4 2 17.7 3 36.9 1 33.5 1.5 41.3 2 3000"/>
<path d="M1226.2 3432.8H2100" stroke="#a3d5f5" stroke-width="32" stroke-dasharray="5 5.8 1.5 4 3 11.7 2.6 595.6 2 23 1.5 13.5 4.5 3000"/>
<path d="M1802.9 3432.8H2100" stroke="#8a1811" stroke-width="32" stroke-dasharray="3.5 1 5 1.5 4.5 3 4.5 1 2 3000"/>
<path d="M257.3 3482.9H2100" stroke="#8e99a6" stroke-width="32" stroke-dasharray="1 183.3 1.5 16.7 1.5 9.4 1.5 1.1 1 85.8 1.3 200.6 0.7 0.9 1.3 1.6 1.3 162.4 2 2.8 1 143.2 1 4 1 3.3 1 16.7 3 131.5 1 72.3 3 2.4 5 15.3 1.5 67.8 1 9 2 14 3 59.6 1.5 58.8 3 1.8 1 0.4 3 0.9 1.5 1.9 2 148.9 1.6 68.5 0.7 1.3 1.6 12.9 3.5 2 4.9 4.8 2 0.3 1.5 6 4 0.7 1 1 1.5 39.1 1.5 5.1 1.5 0.5 1.7 6.7 1.5 0.8 1 1.4 2 2.7 1.2 3000"/>
<path d="M353.4 3482.9H2100" stroke="#b9c3cd" stroke-width="32" stroke-dasharray="1 290.3 1 17.3 1 74 1 82.7 1 125 1 133.3 0.7 4 0.7 3.7 0.7 1.3 0.7 4.8 2 16.5 1.5 3.8 1.5 0.3 1.5 0.4 1.3 394.9 1 10.7 1.6 2 0.3 48.1 1 115.3 1.3 4.3 1.1 206.7 0.7 1.6 1.6 2.2 0.6 3000"/>
<path d="M437.0 3482.9H2100" stroke="#e8602a" stroke-width="32" stroke-dasharray="3 3 5 1.5 6.7 5.9 1.5 11.3 2 4.3 1.9 6.7 34.6 158.6 19.2 424.9 1.5 6.2 2 3.9 4 20.8 2.9 285.5 4.8 118.2 3.8 3000"/>
<path d="M456.2 3482.9H2100" stroke="#f4a582" stroke-width="32" stroke-dasharray="2 6.7 1 0.8 1.5 1 1 3000"/>
<path d="M870.5 3482.9H2100" stroke="#c96a4e" stroke-width="32" stroke-dasharray="6.7 235.9 3 21.2 3 34.3 1.5 250.8 3 4 1 80.6 1.5 9 0 194.2 0.7 5 1.6 77.3 4 3.5 2 3000"/>
<path d="M952.2 3482.9H2100" stroke="#3aa8e0" stroke-width="32" stroke-dasharray="1 147.9 4 4.7 3 6 3 7.4 5 11.4 3.9 0.7 3 0.9 2 17.3 1 2.8 2.9 117.3 4 0.6 4 1.3 5 5.1 1.5 7 1.2 4.8 3 0.8 3 2.7 2 62.5 3 2 7 4 5 4 3 5 1.5 1.5 5 1.5 5.6 4.8 26.9 4.8 7 1.5 0.2 7.7 4.8 2.9 1 1.5 5 1 3 313.4 1 1.5 9 6.7 11.5 13.6 4 3000"/>
<path d="M1271.3 3482.9H2100" stroke="#5c6672" stroke-width="32" stroke-dasharray="1 109.6 1 445.5 4 42.7 5 3000"/>
<path d="M215.9 3532.9H2100" stroke="#b9c3cd" stroke-width="32" stroke-dasharray="1 26 1 131.7 1 7.7 1 72.1 1 484.4 1 313.4 3 4 3 143.8 1 5.5 1.3 71.9 2 7.8 1 17.4 2 99.7 0.7 72.3 1 3.7 1 86.6 1 15.4 1 11.5 1 3000"/>
<path d="M327.4 3532.9H2100" stroke="#8e99a6" stroke-width="32" stroke-dasharray="1 29.8 1 1.6 1.6 2.8 1.6 49 1.3 2.1 1 3.2 1.6 5.4 1 2.6 1 1.5 1.3 4.1 1.3 2.2 1.6 84.3 1 2.7 0.7 1.8 0.7 1.2 1.3 2.6 1 2.1 1 1.2 0.7 1 1 233.2 1 26 3.4 35.6 1 4.5 3 11.5 3 1 0 149 3 2 3 2.9 2 89.4 1.5 25.7 1 64.6 1 51 1 3 1.5 171.3 4 7 0.5 1.7 5 1.3 2 39.7 1 6.3 2 8.2 4 4 1.5 1 1.5 34.1 1 4.3 1.6 5.6 1.6 6.7 1.3 7.1 1 89 1 21.1 1.5 1.4 1 0.7 0.3 7 4 1.5 2 113 2.3 7.7 2 45.1 1 13.6 3 6.4 2.9 3000"/>
<path d="M396.6 3532.9H2100" stroke="#5c6672" stroke-width="32" stroke-dasharray="2.9 105.7 3 712.1 1.5 155.2 1 152 4 4 0.5 208.6 6.7 99 1 10.6 1 3000"/>
<path d="M699.4 3532.9H2100" stroke="#e8602a" stroke-width="32" stroke-dasharray="1 5.8 8 0.8 4 0.6 4 7.7 1 5.8 1 5.8 1 4.8 4.8 7.7 4 9 5.5 2 1 1 3.4 6.7 1 0.2 1.5 0.4 1 0.3 2 104.1 4.8 189.4 1.5 7.8 1 0.5 3 1.1 1.5 0.7 1 2.3 1.5 0.5 2 3 2 0.6 2 2.2 1.5 3.2 1.5 10.4 1.5 3.7 2 2 13 1 17.5 3 4.7 91.3 72.1 179.7 4.5 82 4 1 0.8 11.5 4.8 23.4 5 5.2 1 3000"/>
<path d="M761.9 3532.9H2100" stroke="#f4a582" stroke-width="32" stroke-dasharray="1 4 1.7 54.1 2 4 2 13 2 308.3 2 2 2 13 1 17.5 3 317.8 2 3000"/>
<path d="M774.4 3532.9H2100" stroke="#c96a4e" stroke-width="32" stroke-dasharray="1.5 5.5 2 67.9 3.5 4 1.5 4 6 234.8 1 26.8 1 2.5 1 8.7 3 53.8 3 1.1 2 39.6 1.5 29 3 7 1.6 181 1.5 0.2 3 0.8 3 0.6 4 0.9 0.1 147.2 1 23.9 3.5 59.9 3 19.3 0.8 151.9 1.9 10.6 1 5.8 1.5 6.2 3 3000"/>
<path d="M805.1 3532.9H2100" stroke="#8a1811" stroke-width="32" stroke-dasharray="3 0.9 2 3.7 8 2 4 2 13 2 4.6 4.5 1 4.5 4 9 1 7.7 14.4 3000"/>
<path d="M874.4 3532.9H2100" stroke="#3aa8e0" stroke-width="32" stroke-dasharray="7.7 220.4 2 2.2 2 10.1 1.5 17.3 1 2.8 3 54.9 3 42.2 4 1.5 7 3 1 1 2 4.5 2 2 2 1.5 1.5 5.5 2 1 2 163.3 7 0.5 1.5 9 2 22.2 2 1.3 2 3 1 0.9 3 3.5 1.5 9.9 1.5 12.5 1 10.3 0.3 70.2 1 21.1 4 1 1.5 9.9 2 3.5 1.2 5.8 5 23.1 0.7 3.8 1.6 1.9 0.7 1.2 1.3 25.7 1.5 0.3 0.4 3.8 4 13.3 2 2 0.8 3.9 9.5 1 2 65.4 2.5 23.5 14.4 29.8 1.5 6.3 1.5 3000"/>
<path d="M1758.7 3532.9H2100" stroke="#a3d5f5" stroke-width="32" stroke-dasharray="2 127.7 1 3000"/>
<path d="M1764.4 3532.9H2100" stroke="#58b5e7" stroke-width="32" stroke-dasharray="1 9.5 1 3000"/>
<path d="M284.2 3583.0H2100" stroke="#5c6672" stroke-width="32" stroke-dasharray="1 3000"/>
<path d="M408.2 3583.0H2100" stroke="#b9c3cd" stroke-width="32" stroke-dasharray="1 146.1 1 49 1 11.5 1 75.9 1 439.3 2 24 4 56.6 0.7 1.4 0.7 37.6 3 359.1 1.5 3000"/>
<path d="M644.6 3583.0H2100" stroke="#8e99a6" stroke-width="32" stroke-dasharray="1 29.9 1 66.2 1 27.9 3 1.7 2 2.9 7.5 2.2 2 1 1 2 2.5 10.5 2 8 3 5.5 4 22.5 4 55.5 2 2.5 4 103.4 5 8.7 3 1 5 3.3 4 81.3 5 6.9 5 49.7 1 1 3 17.3 1 2.6 1 1.7 0.3 14.9 2 0.6 1.5 7.1 0.8 51.5 2 7.5 2 3 2 291.1 2 5.5 1 1.5 9 3 4 1 0.3 11 1 10.1 5 1.1 3 0.9 4 1.4 1 23.2 3 13 3 3 1.5 12.5 4 2.5 3 22.5 3 3 2 3 2 8 3 1.5 3.5 4.5 1.5 4 1.5 1 1 1 2 6.5 4 3.8 6 4 2 3000"/>
<path d="M673.5 3583.0H2100" stroke="#e8602a" stroke-width="32" stroke-dasharray="2 1 0.8 122 3 1.5 1 1 4 2 4 2.5 1.5 5.5 3 10 2 2 6 5 1.5 5 4.9 9.6 4 4 6 1.5 1 1.5 6 4 4 4 4 8.5 1.5 3 8 2 2 5 5 28.8 3.5 1.5 3 3 1.5 5 4 1 1 1.5 8 2 4 33.1 1.5 115.5 1 2 4.5 1 3 3.5 7.5 1 4 3 1.5 1 3.8 509.8 1 6 1.5 9 3 5.1 2.9 3000"/>
<path d="M788.6 3583.0H2100" stroke="#3aa8e0" stroke-width="32" stroke-dasharray="2.2 2 1 1 2 19 1 6 1.5 26 3 25 4 16 4 22 2 9 2 2 5 77.1 4.8 9.7 3 79.7 0.8 85.6 1 3 4.6 40.2 3 11.4 4 13.5 7 3 1 4.5 3 3 4 3.5 2 8 1 3 0.2 308.9 3 9.3 4 1.5 1.5 1 3 1.5 2.7 39.4 2 4 2 3.5 1.5 24.5 1.5 11 2 1 2 2.5 4 4 1 2 1 4.5 3 2 3 6 4 44.7 4 2 0.5 12.5 25.5 4 19 1 0.5 3000"/>
<path d="M833.8 3583.0H2100" stroke="#c96a4e" stroke-width="32" stroke-dasharray="3 4.5 1 6 2 40.5 1.5 14 4 6 1 73.3 3 8 1.5 29.3 3 21.3 3.1 54.8 4 24.9 1.5 10.1 1.5 9.7 1 13 2 92 2 8 1.5 12.5 1.5 5.5 2 11.5 2 296.6 1.5 2 2 23.3 4 42.1 3 1 3 1.5 3 11 1.5 1.5 3 6 3 4.5 1.5 1 2 9 1 8 1 3.5 1 4 4 1 1 17.5 3 15 1.5 13.5 1 1.5 1 5.5 3.8 12.5 1 5 5 1 0.5 25.5 4 19 1 6.4 3 4 2 3.5 0.8 3000"/>
<path d="M986.2 3583.0H2100" stroke="#f4a582" stroke-width="32" stroke-dasharray="3 4.5 2 15.5 2 4 4 147.1 2 25.5 1 2.5 1 710.2 2.9 3000"/>
<path d="M1145.4 3583.0H2100" stroke="#a3d5f5" stroke-width="32" stroke-dasharray="3 8.8 3.6 99 2 3 2 5.5 2 3 1.5 1.5 4 8.5 1.5 22.5 1 5 2 3000"/>
<path d="M1245.4 3583.0H2100" stroke="#0a6db8" stroke-width="32" stroke-dasharray="2 5.2 1 4.1 1 3000"/>
<path d="M1804.8 3583.0H2100" stroke="#8a1811" stroke-width="32" stroke-dasharray="3 3 4 1.5 1 1 1 2 1.5 1 1.5 1 1.5 21.3 5 5 1 53.4 3 3 4 2 3.5 3000"/>
<path d="M257.3 3633.0H2100" stroke="#b9c3cd" stroke-width="32" stroke-dasharray="1 6.7 1 202.8 1 1.2 0.7 1.2 0.8 35.6 1 11.5 1 10.6 1 120.1 1 29.8 1 87.5 1.5 2.3 3 305.6 1 50 1 3000"/>
<path d="M393.8 3633.0H2100" stroke="#e8602a" stroke-width="32" stroke-dasharray="10.9 1.3 8 1.1 6 0.8 3 0.3 3 0.3 2.9 3.8 11 0.7 11 1 3 0.3 1.8 96.5 5 3.8 0.4 585.6 2 15 4 3.7 3 4.2 1.5 0.2 2 0.7 5 3.9 3.6 4.8 2.9 3000"/>
<path d="M431.2 3633.0H2100" stroke="#8e99a6" stroke-width="32" stroke-dasharray="3.8 113.4 2 7.3 2 6.8 2 169.3 1 2.5 1 6 1.3 5.8 1.6 24.1 0.1 59.6 2 308 3 4.3 1 0.5 2 86.1 3 11.2 1 1.8 1.3 18 3 6.9 2 17 3.5 2 3.1 451.8 2 2.5 1 1 1 5 5 2 4 3.5 2 4.6 2 4.5 1.5 3.5 1.5 9 4 3 0.8 4 2 2.5 1 2.5 3 3000"/>
<path d="M550.9 3633.0H2100" stroke="#f4a582" stroke-width="32" stroke-dasharray="5 3000"/>
<path d="M775.3 3633.0H2100" stroke="#5c6672" stroke-width="32" stroke-dasharray="1.5 999.2 1.5 3 1 17.5 1 8.6 1.5 9.5 3.5 10.5 2 3000"/>
<path d="M843.5 3633.0H2100" stroke="#3aa8e0" stroke-width="32" stroke-dasharray="4 301.8 1 11.7 3 156.3 36.5 423.7 3 12 1.5 13.6 1.5 1.5 2 19.8 4 2 1.5 2 2.5 4 0.3 3000"/>
<path d="M848.4 3633.0H2100" stroke="#c96a4e" stroke-width="32" stroke-dasharray="1.9 86.5 1 4.8 1.9 233.2 2 4 3 11 2 42.8 4 4.5 5 33.6 2 20.1 1 3.5 2 472.4 2 3000"/>
<path d="M1823.2 3633.0H2100" stroke="#8a1811" stroke-width="32" stroke-dasharray="4 3000"/>
<path d="M1844.0 3633.0H2100" stroke="#a3d5f5" stroke-width="32" stroke-dasharray="1 6.5 1 3000"/>
<path d="M255.3 3683.1H2100" stroke="#8e99a6" stroke-width="32" stroke-dasharray="1 294.2 1 90.2 1 422 1 26 1.6 82.1 1.6 4.6 1.3 5.3 1 2.4 1 2.9 1.6 38.7 1.5 37.6 1 0.6 2 1 2 6.4 2 66 1 1.3 2 141.8 1.3 6.5 1.3 41.9 3 1.5 0.3 6.7 1 2 3 6 3 4.1 2 5.5 0.4 16.3 3 23.9 1 3 2.7 4.8 1 17.1 1 2.2 0.9 71.1 1.5 17.7 3 4.5 1 1.5 0.6 6.7 3 8.5 2 0.7 2 0.3 2.7 6.7 2 2 1.8 8.6 2.9 59.6 1 3000"/>
<path d="M319.7 3683.1H2100" stroke="#b9c3cd" stroke-width="32" stroke-dasharray="1 23.1 1 71.1 1 3.6 1 2 1.6 8.5 1.4 302.8 1 97.1 1 285.5 1 2.3 1 45.7 0.7 12.1 0.7 145.1 1 1.2 0.7 2.1 1 2.3 0.7 2.1 1.4 24 1 2.6 1 2.1 1.3 4.4 1.3 300.7 1 21.1 1 13.5 1 3000"/>
<path d="M353.4 3683.1H2100" stroke="#0a6db8" stroke-width="32" stroke-dasharray="2.9 3000"/>
<path d="M360.1 3683.1H2100" stroke="#c96a4e" stroke-width="32" stroke-dasharray="5 1.7 3 0.7 4 1.3 5 1.1 5 160.6 3 4 0.7 99 1.9 237.4 2.9 246.2 1.8 18.3 4.8 55.7 1 47.1 2 8.9 1 27.4 1.5 172.6 1 30.8 1.5 48.1 1 7.5 1.5 4.7 2 4 3 6.5 1 3 2 33.3 3 22.8 1.5 98.7 1.5 4 1.5 35.3 2 8.5 1 3000"/>
<path d="M388.4 3683.1H2100" stroke="#e8602a" stroke-width="32" stroke-dasharray="5 1.2 0.1 6.7 3 1.4 3 47.4 5.8 8.7 2.9 78 3 316 3.8 721 1 1 3 2 2.5 7.7 21.5 3000"/>
<path d="M396.6 3683.1H2100" stroke="#5c6672" stroke-width="32" stroke-dasharray="1 864.1 1.3 2.7 0.8 475.5 0.3 20.8 3 13.7 4 3000"/>
<path d="M1139.6 3683.1H2100" stroke="#3aa8e0" stroke-width="32" stroke-dasharray="3 72.9 7.7 1 6.7 3.8 1 1.5 0.4 46.3 2 19 5 2.6 4.9 238.5 1.5 14.3 2 19.6 2 17 0.3 46.1 2 4.9 1 118.5 2 3000"/>
<path d="M1520.0 3683.1H2100" stroke="#f4a582" stroke-width="32" stroke-dasharray="1 113.1 0.6 3000"/>
<path d="M302.4 3733.1H2100" stroke="#b9c3cd" stroke-width="32" stroke-dasharray="1 273.9 1 66.3 1.6 5.5 1.6 278.7 1 191.3 1 9.6 1 99 1.6 2.1 1 51 1 176.9 1 64.4 2 29.5 2 1.5 1.5 17 2.5 30.5 4 8.5 2 16.5 2 7.5 3 16.5 4 51.4 3 4.5 1 2 1 3000"/>
<path d="M444.7 3733.1H2100" stroke="#8e99a6" stroke-width="32" stroke-dasharray="1.3 1.6 1.6 4 1 1.9 1 2.4 1 48.7 1.6 9.1 1.6 33.8 0.7 1 1 2.3 1 1.6 1 318.2 1 2 1.8 14.4 1 181.7 0.7 2.3 1 1 1.6 3.5 1.3 1.6 1 5.2 3 1.5 0.3 110.5 3 3.2 1.4 20.9 3 4.5 0.5 61.5 1.3 2.3 0.7 0.8 1.3 1.4 1 90.2 0.7 1.1 1.6 2.2 1.1 134 2 14 4 41.5 1 81 4 8.5 1 14 0.7 6.7 1 3 4.5 129 1 3000"/>
<path d="M462.0 3733.1H2100" stroke="#e8602a" stroke-width="32" stroke-dasharray="8 1.1 4 0.4 6 0.6 15.5 14.7 1.6 150 3 0.4 11 0.8 4 0.7 11 1.7 3 0.3 1.5 458.7 0.7 6.2 0.6 342.7 2 3 1 4.5 2 3 2 115.6 2.9 3000"/>
<path d="M516.7 3733.1H2100" stroke="#5c6672" stroke-width="32" stroke-dasharray="1 645 2 58 1 3000"/>
<path d="M874.4 3733.1H2100" stroke="#c96a4e" stroke-width="32" stroke-dasharray="7.7 203.4 0.7 19.9 1.5 46.4 6 331.5 3 4 4 1 0.4 4.8 1.5 2 3 2.5 1.5 3.5 3 13 2 10.5 2 1 2 72 1 5.5 1 11.5 2 4 2 63.5 3 3000"/>
<path d="M883.0 3733.1H2100" stroke="#3aa8e0" stroke-width="32" stroke-dasharray="2 360.3 1 53.8 1 188.4 2 3 4 4 1 0.4 4.8 27 3 3.5 1 1 2 1 2.5 3.5 1 4 3.5 1 1.5 6 2 5.5 4 1.5 4 3.5 1.5 1.5 1.5 1 4 1.5 16 1 1.5 4 4 1 2 5.5 2 1.5 6 3 2 4 2 1 1 6 2 1.5 10 7 4 1 4 1 4 5 2 1.5 3 3 3 5.5 3.5 17.9 2 1 5 4 17 1.5 12 1 3 2 6.5 3 9.4 3000"/>
<path d="M910.9 3733.1H2100" stroke="#0a6db8" stroke-width="32" stroke-dasharray="1 3000"/>
<path d="M1752.1 3733.1H2100" stroke="#58b5e7" stroke-width="32" stroke-dasharray="4 17 1.5 12 1 3 2 6.5 3 3000"/>
<path d="M385.1 3783.2H2100" stroke="#b9c3cd" stroke-width="32" stroke-dasharray="1 104.8 1 366.2 1 15.4 1 54.8 1 3.8 1 92.3 1 197.1 1.3 6.2 0.7 270.5 1 5.3 1.5 1.1 1.5 0.8 0.3 52.9 1.9 22.1 1 0.6 1 0.6 1.5 0.9 2 2.5 1.6 43.3 0.7 0.8 0.7 32.4 1 3000"/>
<path d="M396.6 3783.2H2100" stroke="#e8602a" stroke-width="32" stroke-dasharray="4 0.3 4 0.4 2.8 6 1.6 40.4 14 3 4 1.5 1.5 3.5 4 41.6 3.8 2.9 2.9 633.4 2.9 4.8 2 0.3 3 0.6 3 0.8 2 0.7 4 0.8 5 1.7 2 0.4 2.4 312.4 1 3 2 3 36.2 73.1 6.7 29.4 1 3000"/>
<path d="M409.0 3783.2H2100" stroke="#f4a582" stroke-width="32" stroke-dasharray="4 9.6 1 0.9 1 46.3 1.5 8.5 1 416.6 0.7 1.5 0.7 0.9 0.7 788.1 1.5 3000"/>
<path d="M449.5 3783.2H2100" stroke="#8e99a6" stroke-width="32" stroke-dasharray="1 364.3 1 71.1 1 2.9 3 22 1 178.8 1 69.2 2.9 54.8 1.3 5 1 1.1 0.7 3.2 1 1.7 1.4 2.9 5 4.9 3 2.4 1.5 249.8 1 110.8 2 1.8 4.3 2.5 4 58.4 2 0.6 4 3.8 1.5 4 1.7 44.5 1 5.5 2 10.5 2 83.5 2 44 2 7 2 16.5 0.5 3000"/>
<path d="M792.7 3783.2H2100" stroke="#c96a4e" stroke-width="32" stroke-dasharray="1.5 1.8 1.5 92.3 1 3 2.7 538.3 3 1 2 178.6 1 9.5 1.5 5.1 3.1 33.6 2.5 1 1.3 8.7 1.5 0.3 3 10.2 2 2.5 3 48 3 10.5 1 7.5 1.5 40.3 4 43.2 4 6.5 2 3 2 4 2 2 2 7 3 18.5 3 1.5 1.5 3000"/>
<path d="M800.3 3783.2H2100" stroke="#5c6672" stroke-width="32" stroke-dasharray="1 647.8 1 0.4 3 26.3 1 240.3 3 4 3 3000"/>
<path d="M1117.5 3783.2H2100" stroke="#3aa8e0" stroke-width="32" stroke-dasharray="2 1 3 1 3 1.5 15 1.5 1.5 1 3 1.5 6 90.1 3 4.5 1.5 1.9 0.3 1.9 4.8 2.9 1.5 0.4 4 0.5 5 0.7 3 0.5 1.5 0.4 3 0.6 3 0.6 1.4 100.9 38.4 64.4 2.9 5.1 1 14.2 3 2 3 55.4 7.7 130.8 4 3 1.5 50 33.6 12.5 9.5 2 5.5 1 9 2 2.7 3000"/>
<path d="M1437.7 3783.2H2100" stroke="#8a1811" stroke-width="32" stroke-dasharray="1 2 3.6 304.7 7 5 1.5 3.5 3 4 2 2 1 4 0.6 33.6 4.5 4 4 33.7 3.5 7.5 1.5 1.5 2 7 3 3 2 3 3 1 2 19.5 1 7 4 3000"/>
<path d="M1838.3 3783.2H2100" stroke="#58b5e7" stroke-width="32" stroke-dasharray="2 5.5 1 9 2 3000"/>
<path d="M1866.0 3783.2H2100" stroke="#6e1a14" stroke-width="32" stroke-dasharray="2 4 1.5 7 2 27.5 4 5 2 6 1.5 3000"/>
<path d="M393.8 3833.2H2100" stroke="#b9c3cd" stroke-width="32" stroke-dasharray="1.6 2.2 1.6 31.1 1 801.6 1 4.5 1.6 5.9 0.7 2.8 1 5.6 1 444.1 1 199.6 1.5 12 1.5 9.5 3 3000"/>
<path d="M401.3 3833.2H2100" stroke="#8e99a6" stroke-width="32" stroke-dasharray="1 34.7 0.7 0.8 1.6 2.9 1 1.9 1 1.4 1.3 1 0.7 1.3 1.3 560.8 1.3 2.1 1 2 1.3 1.6 1 2.8 1 2.4 1.6 4.9 0.7 1.2 0.7 85.1 4 5.8 2 18.4 3 21.3 1.5 85.4 1.6 2.9 1.3 2 1.3 19.3 1 13.5 1 13.5 1 13.7 3 19 2 7.5 1 22 1 4.5 2 96.4 3 4 0.7 39.3 1 194.3 3 14.3 1 1 1 0.8 1 2.9 2 3 1.7 2.9 4.8 12.7 4 4.4 4 21.5 2 9 6 24.8 7.7 23.1 2 4 2 2 2 7.5 1.5 1 1 2 3 3 3 3000"/>
<path d="M420.7 3833.2H2100" stroke="#f4a582" stroke-width="32" stroke-dasharray="0.7 0.8 1.6 453.5 2.9 488.2 2 4 3 8.5 3 210.7 1 3000"/>
<path d="M454.3 3833.2H2100" stroke="#c96a4e" stroke-width="32" stroke-dasharray="4 656.3 3 6 1.5 28.8 1.5 178.3 3 6 5 2.5 2 5.5 2 5.5 1.5 6 1.5 3 4 1.5 3 3 3.5 3.5 3 9.1 1.5 4.5 3 2 1.4 4 4 4.5 1.9 65.5 4 12.3 1.5 1 3 6 0.9 62.6 4 3 1 2.5 4 5.2 4 170.3 5 6.4 3 8 4 3.5 4 3 2 7 1.5 3000"/>
<path d="M458.3 3833.2H2100" stroke="#e8602a" stroke-width="32" stroke-dasharray="0.8 421 13.5 10.6 8.7 217.8 1.5 7.8 4 4.7 4 6.5 2 0.5 6.2 1.8 5 364.2 1 10.4 16.3 14.4 4 3.7 3 4 3 2 1.5 4 1.7 7.5 1 3000"/>
<path d="M1118.3 3833.2H2100" stroke="#3aa8e0" stroke-width="32" stroke-dasharray="4 10.3 2 3.3 1.5 5.4 3 72.6 2.9 41.3 1 50.9 4.8 16.5 1 9 1.5 3 5.5 6.5 1 40.6 2 1.5 3 4.5 2 46.6 31.7 38.4 3 1 3 2.5 3 18.3 14.4 4 0.8 256.9 5.2 2 17.5 9.6 1 4 16.1 5 1 2 2 6 1 6 2 3000"/>
<path d="M1178.1 3833.2H2100" stroke="#5c6672" stroke-width="32" stroke-dasharray="1 4 1 358.6 1.5 198.3 6.5 17.5 3 3000"/>
<path d="M1420.3 3833.2H2100" stroke="#8a1811" stroke-width="32" stroke-dasharray="4 4 4.5 80.7 3 1.5 1 3 6 79.7 3.5 5 1.1 186.6 4 5 1.5 6 2 6 1.5 4.5 2 3000"/>
<path d="M1748.9 3833.2H2100" stroke="#2f3642" stroke-width="32" stroke-dasharray="1.1 3000"/>
<path d="M1847.7 3833.2H2100" stroke="#58b5e7" stroke-width="32" stroke-dasharray="2 28.1 4 3000"/>
<path d="M1910.0 3833.2H2100" stroke="#a3d5f5" stroke-width="32" stroke-dasharray="3 3000"/>
<path d="M233.2 3883.3H2100" stroke="#8e99a6" stroke-width="32" stroke-dasharray="0.7 1.4 1 2.7 1.6 777.9 2 240.3 2.5 2 1.2 259.3 4 73.1 0.7 0.9 0.7 1 0.7 2.2 0.7 1.2 1.3 4 1.3 3.9 0.6 3000"/>
<path d="M337.0 3883.3H2100" stroke="#b9c3cd" stroke-width="32" stroke-dasharray="1 46.1 1 33.6 1 15.4 1 386.4 1 181.7 1 3000"/>
<path d="M713.8 3883.3H2100" stroke="#e8602a" stroke-width="32" stroke-dasharray="9.6 67.3 4 3 0.7 230.7 1.5 2 3 1.5 1.5 1.5 2 15 2 1 4.5 4.8 4 4 2.5 1.5 1.5 1 3 1 8 1 1 1.5 4 1 1.5 5.5 1.3 24 2 3.5 1.5 14 2 1 4 0.4 4 0.4 11 1 3 0.4 3 0.4 1.2 8.6 3 4.8 5 0.8 3 1.1 3 6.5 5 0.7 4 0.6 3 0.7 2 0.3 4 0.8 2 4.2 1.5 0.4 2 0.4 1.9 13.7 2 1 1 62.1 26 15.4 33.6 33.6 19.2 11.5 30.8 29.8 56.7 149.1 2.8 3000"/>
<path d="M725.4 3883.3H2100" stroke="#f4a582" stroke-width="32" stroke-dasharray="1 153.8 1 29 0.7 163.6 3 28.5 4 50.8 0 3000"/>
<path d="M794.7 3883.3H2100" stroke="#c96a4e" stroke-width="32" stroke-dasharray="3 13.7 2 3 0.3 73.3 0.7 6.2 1 3.6 0.7 5.9 1 42.7 2 15.5 1.5 49.7 6 1.6 1 9.5 1.5 6.5 1.5 4 4 66.2 2 1 4 2 0.6 8.3 2 1.5 3 4.5 2.5 1.5 1.5 37.7 3 4.5 3 14.5 5 24.7 3 11.2 2 9.2 1 2 1.5 232.7 1 2 3 1 0.6 1 4 218 2 184.1 2 1.5 2.7 3000"/>
<path d="M798.4 3883.3H2100" stroke="#8a1811" stroke-width="32" stroke-dasharray="2 1 7 1.5 1.5 2 3 12.8 3 1.3 2 0.9 1 0.4 1.5 0.4 1 0.3 0.5 6.7 11.5 1 2 1 3.7 4.8 4.8 5.7 1.6 2.2 0.7 0.8 0.7 2.9 1.6 5.8 0.7 2.9 1.6 1.2 1.3 42.4 2.5 2 15.5 1.5 4.5 544 1 9.5 5.5 1.5 1.7 149 6.7 2.9 6.7 12.5 6.7 12.5 1 190.3 1.5 2 1.5 3000"/>
<path d="M1026.5 3883.3H2100" stroke="#3aa8e0" stroke-width="32" stroke-dasharray="1.6 2.5 2 9.5 3.5 2.5 3 78.2 2 0.6 4.8 10 4.5 107.6 2 5.7 6 4 1 1.5 25 1.9 32.7 26 15.4 33.6 20.2 1.9 11.5 19.2 11.5 30.8 3 1 2 3 1 144.8 24 6.7 2.9 6.7 12.5 6.7 12.5 1 5.8 4.8 5 2 14 2 5 2 4 4 5 1.5 19 1 11.5 4 12.5 4 11.5 2 6.5 2 7 1.5 20 1.5 13.5 2 15.7 3000"/>
<path d="M1752.1 3883.3H2100" stroke="#58b5e7" stroke-width="32" stroke-dasharray="2 14 2 5 2 4 4 5 1.5 19 1 11.5 4 12.5 4 11.5 2 6.5 2 7 1.5 20 1.5 13.5 2 3000"/>
<path d="M353.4 3933.3H2100" stroke="#b9c3cd" stroke-width="32" stroke-dasharray="1 93.2 1 191.3 1 647.7 1 47.2 1.3 7.4 1.6 153.1 1 1.8 1.6 2.6 1 1.5 1.3 3.1 1.3 2.1 1.6 2.7 1 2 1.3 1.6 1.6 57.4 1 299.1 2 10.5 4 8 2 3000"/>
<path d="M677.3 3933.3H2100" stroke="#c96a4e" stroke-width="32" stroke-dasharray="2.9 13.7 2 9.5 3 6.5 1.5 29.5 1 6 2 7 1.5 6 1 8 2 23 1.5 3 1.5 1 3 15 4 58.5 1 4 2 14.9 6 3 2 4 11.9 27.7 1.5 2 4 1 3 8.5 5 17.3 4 6 1 10.3 2 1 4 12.5 1 24.5 0.2 28.8 5 3.1 1.5 71.3 5 13.8 2 5.5 1.4 20.3 3 114.1 1.5 3 2 121.5 2 2 4 120.3 3 1.5 1.5 268.3 4 6.5 2 31.9 0.8 3000"/>
<path d="M686.9 3933.3H2100" stroke="#e8602a" stroke-width="32" stroke-dasharray="7 2 4.5 2 3 3 6.5 1.5 2 1.5 4 3 4 2 6 4 3 1 6 3 6 1.5 2 5 2 2 4 2 2 4 17 1.5 3 1.5 1 3 5 1 9 4 14.5 2 1 1.5 1.5 1 24 3 1 3 4.5 2.5 4 2 5.3 15.6 3 2 4 19.6 6 2 2 2 8 1.5 2 4 1 3 6 1.5 1 5 1.5 1.5 8.3 4 2 4 6 1 10.3 2 1 4 12.5 3 3 3 7 1.5 8 5.9 8 0.8 3 0.3 9 8.2 1.5 2.3 1.5 3 3 0.5 4 1.3 2 6.9 2.3 23.1 4.8 2.9 5 1 1 1 6 6.5 9.8 3 1 3.5 4 145.6 31.8 1 5.6 281.6 9.6 3000"/>
<path d="M700.4 3933.3H2100" stroke="#f4a582" stroke-width="32" stroke-dasharray="2 16 1.5 4 3 4 2 6 4 12 1 9.5 4 3 2 8 4 32 1 27.5 2 1 1.5 1.5 1 24 3 1 3 4.5 1.5 62.5 2 2 2 25.5 1.5 7.5 1.5 8.3 2.5 45.3 2 3 3 7 1.5 3000"/>
<path d="M1006.2 3933.3H2100" stroke="#8e99a6" stroke-width="32" stroke-dasharray="1.5 109.3 2 12.2 5 65.6 2 113.7 1.9 21.2 1.6 263.7 1.5 3 1.5 1.5 1.1 131.8 1 2 0.7 78.1 2 60.1 2 2 4 5 8 3 1.1 3000"/>
<path d="M1206.7 3933.3H2100" stroke="#3aa8e0" stroke-width="32" stroke-dasharray="1.5 67.9 2.5 1 8.8 1 5.9 57.2 3 2 0.2 31.8 1 68.1 4.8 150.9 63.4 9.6 40.4 1.9 12.5 7.7 1.5 3 10 3 8 4 4 2 14.5 3 1.8 17.3 6 2 13.1 14.4 24 3000"/>
<path d="M1230.0 3933.3H2100" stroke="#8a1811" stroke-width="32" stroke-dasharray="4 3 7.4 175.9 4.8 50.9 3 2 2 4 2.5 115.3 1 122 1 13.5 4 1 2 55.5 17.3 100 4 4.7 1 3000"/>
<path d="M1278.6 3933.3H2100" stroke="#a3d5f5" stroke-width="32" stroke-dasharray="1 563.6 1.5 0.5 3 2.3 2 0.9 1 0.8 1 0.8 0.6 3000"/>
<path d="M1751.5 3933.3H2100" stroke="#58b5e7" stroke-width="32" stroke-dasharray="3 10 3 8 4 4 2 14.5 3 3000"/>
<path d="M240.9 3983.4H2100" stroke="#e8602a" stroke-width="32" stroke-dasharray="1.5 1.5 1 1.5 1.2 1.9 4 1 1 1 2 2 3 38.9 6 1 4 5.5 1 3 1 1 2 1 4.5 1 4 1 2.5 4.8 2 0.8 2 1 2 5.2 2 0.7 2 0.8 1 3.7 1 4.9 2 17.9 3 1 11.5 1.5 3 1.5 4 1 10 1.5 10.5 2.5 2 2.5 7 414.4 3 2 2.6 310.5 3 8.5 1 329.8 4 93.9 32.7 3000"/>
<path d="M242.4 3983.4H2100" stroke="#c96a4e" stroke-width="32" stroke-dasharray="1.5 1 1.5 7.2 1 1 1 120.8 2 1 1.5 7.5 1.5 499.9 6 102.5 1 195.4 2 1.5 2 2.5 3 1 1.2 115.4 3 6 4 2 2 5 6 89.2 1.5 1.5 1 41.2 0.9 19.2 3 4.6 4 7 1.5 193.4 1 23 2 4 1.6 59.2 1 14.5 1 6 1.5 40.1 1 5 1.5 1 1.5 4 1 3000"/>
<path d="M247.7 3983.4H2100" stroke="#8a1811" stroke-width="32" stroke-dasharray="1.9 193.6 1 5 1 419.3 2 3 2 609.1 1 322.9 1.5 1 14.5 1 6 1.5 0.5 34.6 5 1 5 1.5 1 1.5 4 1 1.1 3000"/>
<path d="M258.6 3983.4H2100" stroke="#f4a582" stroke-width="32" stroke-dasharray="2 3 3.3 48.1 4 1 3 18.7 3 9.8 3 8.3 2 2.8 3 819.1 3 3000"/>
<path d="M286.1 3983.4H2100" stroke="#b9c3cd" stroke-width="32" stroke-dasharray="1 6.7 1 3.8 1 805.5 1 51.9 1 57.7 1 8.7 1 66.3 1 95.9 3 3000"/>
<path d="M379.4 3983.4H2100" stroke="#6e1a14" stroke-width="32" stroke-dasharray="1 3.5 1.5 936.9 2 20 2 172.9 1.5 0.5 2 18.7 5 1.2 4.8 3000"/>
<path d="M381.9 3983.4H2100" stroke="#8e99a6" stroke-width="32" stroke-dasharray="2 1.5 4 1.5 3.8 492.1 4 6 2.5 343.1 3 5.4 2 74.4 4.5 5.5 2 2 2 10 1.7 155.4 3 10.1 1.5 2.4 1.5 189.4 2 1 1.8 23.2 4 3000"/>
<path d="M899.3 3983.4H2100" stroke="#3aa8e0" stroke-width="32" stroke-dasharray="11.5 322 2.9 12.7 1.5 5.3 1.7 4.8 2.9 16.3 2.9 16.3 3 0.4 5 1.9 2 0.6 5 1 3.3 62.5 4 6 13.5 1.5 1 7.7 3.8 20.7 1.5 1 6.6 77.2 2 5.3 4 12.4 17 1 11 1 2 1.5 21 1 8.5 1 7 3 1.9 34.7 1 1.5 5.5 1 12 3 29.7 4.8 21.2 7.6 1 1 10.5 2.5 7 3 4 2 11 4 11.7 26 34.6 3000"/>
<path d="M1570.0 3983.4H2100" stroke="#58b5e7" stroke-width="32" stroke-dasharray="1 11 1 2 1.5 21 1 8.5 1 7 3 34.6 2 1 1.5 5.5 1 12 3 64.4 1 10.5 2.5 7 3 4 2 11 4 3000"/>
<path d="M255.3 4033.4H2100" stroke="#b9c3cd" stroke-width="32" stroke-dasharray="1 75.9 1 10.2 1 11.2 1 4.9 1.3 3.3 1.3 176.4 4.8 578.6 1 10.6 1 45.2 1 15.4 1 458.5 1 42.3 1 183.2 3 7 1 5.6 2 3000"/>
<path d="M317.8 4033.4H2100" stroke="#e8602a" stroke-width="32" stroke-dasharray="1.9 59.5 4 1.4 2 3.1 1.5 2.2 8 4.8 8 0.8 5.6 443.2 6 1.5 1.5 31.3 11.5 4.8 5 1.2 4 1.4 2 0.5 5 3.7 2 0.5 4 1.4 3.9 0.4 3 1.4 2 0.7 1 2 1 0.4 1 9.3 1.5 0.7 2 0.5 1.5 0.4 2 0.8 3 1.3 2 0.7 1.5 0.4 3 2.9 2 4.3 2.1 16.3 2 2.1 1 3.1 2 3.4 1.5 3.5 3 11.8 1 0.5 1 3 3 6.1 1.5 0.5 1.5 1.8 1.5 5.5 1.5 10.3 1.5 0.5 3 0.4 5 1.5 3 0.6 1.5 0.4 2 0.4 2 35.9 8.7 1.9 3.8 52.1 3.5 1 4 1.5 4.5 1 2 3 2 1 4.5 4 0.5 134.6 31.7 1 31.7 1 8.7 78.9 1.5 8.5 4 8 4 12.5 2 8.3 2 7 3 7 1 6 1 3 2 3000"/>
<path d="M338.3 4033.4H2100" stroke="#f4a582" stroke-width="32" stroke-dasharray="1.6 7.9 1.6 26.1 3 8.8 2 2.4 1.5 51.6 1 494.9 2 21.5 1 3.4 2 0.5 3 1.1 1.5 22.8 1.5 3.7 2 22.2 1 1.9 2 3.6 2 2.4 2 5 1 0.6 3 1.8 3 4.2 2 5.6 2 0.7 1 4.6 1 2.4 3 4.1 3 1.1 3 1.9 0.5 442.2 2 4.5 4 7.5 2 9 2 3000"/>
<path d="M553.3 4033.4H2100" stroke="#8a1811" stroke-width="32" stroke-dasharray="6.5 1 1 3000"/>
<path d="M559.8 4033.4H2100" stroke="#c96a4e" stroke-width="32" stroke-dasharray="1 1 0.2 300.9 1 10.5 2.9 336.4 2.9 1.9 4 18.5 2 7.5 4 19.7 1.5 8.7 2 257.6 2 5 1.5 4 2 2 4 9.5 4 11.3 2 3 2 10 4 1 2 5 1.5 5.5 1.8 174.4 0.7 7.7 1 71 1 9.5 2 8.9 1 7.6 2 1.3 1.5 3.7 0 3000"/>
<path d="M915.7 4033.4H2100" stroke="#3aa8e0" stroke-width="32" stroke-dasharray="4.8 9.6 1 345 2 0.3 3 0.6 2 6.6 4.8 168.2 7.7 40.4 22.1 52.5 2 16 2 3000"/>
<path d="M1009.9 4033.4H2100" stroke="#a3d5f5" stroke-width="32" stroke-dasharray="2 0.9 3 1.5 2 0.6 3 1 1.5 0.5 0.4 3000"/>
<path d="M1231.0 4033.4H2100" stroke="#6e1a14" stroke-width="32" stroke-dasharray="1.5 340.5 1 4 3 224.4 1 1.4 0.7 9 1 3.5 1.6 62 2 7.2 2 3000"/>
<path d="M1287.1 4033.4H2100" stroke="#8e99a6" stroke-width="32" stroke-dasharray="3 293.6 1.5 11 3 14 3 7 2 153.6 1 18.3 1.6 3.6 1 7.5 1 1.9 1.3 4.1 0.7 34.9 1 8.7 1.6 4 1.6 3.2 1 6.4 1.5 14.7 1 0.3 1.5 5.5 3 6.4 2 3000"/>
<path d="M1929.8 4033.4H2100" stroke="#5c6672" stroke-width="32" stroke-dasharray="1 1.9 0.7 0.9 0.3 3000"/>
<path d="M351.5 4083.5H2100" stroke="#b9c3cd" stroke-width="32" stroke-dasharray="1 190.3 1.3 2.7 1 4.6 1.6 5.1 1 74.2 1.6 9.5 1.6 10.9 1.6 3.3 1 2.1 1 753.3 1 85.5 1 135.5 2 13.7 5 7.7 2 192.8 2 3000"/>
<path d="M408.2 4083.5H2100" stroke="#e8602a" stroke-width="32" stroke-dasharray="3 3.2 1.5 3.2 1 27.5 2 1 1 65.2 4 5.1 4 56.1 5 0.9 2 0.6 2 0.4 1.5 0.3 5 1.6 1.5 5.9 5 7.3 1.5 0.5 0.2 40.4 2 1 3.5 1 5 1 10 378.6 4.5 6.7 1 3.8 1.9 28.4 1.5 3.3 2 2 2 0.9 1 0.6 3 38 5 1.3 4 1.5 2.7 199.6 4 4.5 2 5 3 43.9 4 236.8 1.5 1.5 1.5 3 6 1 1.7 3000"/>
<path d="M412.5 4083.5H2100" stroke="#f4a582" stroke-width="32" stroke-dasharray="1.5 2.4 2 2.1 0.2 101.6 3 82.2 4 8 5 66.8 0.5 2.9 1 1.9 1.6 2.9 0.3 173 4 3000"/>
<path d="M427.4 4083.5H2100" stroke="#8e99a6" stroke-width="32" stroke-dasharray="0.7 2 1.3 3.7 1 1.2 0.7 16.3 1 172.1 1 1 1 1.9 1 5.4 1.3 2.4 1 7.1 1 1.2 1 2.2 1 4.3 1 445.9 1.5 3 3 17.9 0.5 6.2 0.7 3.9 1 0.8 1 100.4 1.3 75.3 4 21.5 2 14.5 2.9 33.5 0.1 121.1 3.8 1 1 3 0.8 91.3 4 1.2 1.5 5.1 1.5 7.6 2 2.9 5 8.9 4 0.6 2 4.5 2 180.3 1.5 10 4 3 2 17.6 2 1.5 10 9 2 2 1 1.5 2 3 2 3000"/>
<path d="M449.6 4083.5H2100" stroke="#c96a4e" stroke-width="32" stroke-dasharray="1 1 0.8 129.8 1 1.5 1.3 293.3 0.8 184.6 3 27.7 1.9 12.8 1.5 6.4 2 3.3 1 12.4 0.7 0.5 0.7 2.9 1.3 6.6 0.7 0.8 0.7 1.5 1.3 162.1 4 8 4 4.5 8 14.5 2 7.9 2 3 2 2 1.5 10 1.5 5 2 34.4 5 6.5 1 7 3 72.7 1 1 3 55.7 1.5 42 4 2.7 3 42.8 3 1.5 1.5 1.5 3 6 1 49 1 95.9 4 35 1.5 21.1 1 3.5 3 10 3 3 1.4 3000"/>
<path d="M576.4 4083.5H2100" stroke="#8a1811" stroke-width="32" stroke-dasharray="1 5.8 1.5 478.1 2 3 2 515.9 3 1.5 6.1 60.3 2 15.6 1.5 71.6 4 1 9.4 36.5 13.5 3000"/>
<path d="M1245.4 4083.5H2100" stroke="#3aa8e0" stroke-width="32" stroke-dasharray="2.5 72.6 4 8 3 10.5 4 2 6.5 3 5 6.4 1.5 2 2 3 3 42.6 1 9.8 4 15.5 2 3 4.5 1 1 1 1.4 62.5 51.9 57.2 0.5 36.6 2 28.7 36.5 14.4 1 1 1 1 3 3 2 3 21.5 13.5 31.5 2 3 5 5 3 1 2.5 2 2 1 4 3 2 7 5.5 4.5 15.1 2 3000"/>
<path d="M1441.8 4083.5H2100" stroke="#6e1a14" stroke-width="32" stroke-dasharray="1.5 12 1 4.5 1.5 4.5 1 210.1 2 2 2.7 237 1 3000"/>
<path d="M1648.4 4083.5H2100" stroke="#5c6672" stroke-width="32" stroke-dasharray="2 3000"/>
<path d="M1762.5 4083.5H2100" stroke="#58b5e7" stroke-width="32" stroke-dasharray="1 1 1 3 3 2 3 66.5 2 3000"/>
<path d="M1863.1 4083.5H2100" stroke="#a3d5f5" stroke-width="32" stroke-dasharray="1.5 24 1.5 3000"/>
<path d="M358.2 4133.6H2100" stroke="#b9c3cd" stroke-width="32" stroke-dasharray="1 13.5 1 47.1 1 5.8 1 378.7 1 290.3 1 271.1 1 15.6 1 202.5 1 35.6 1 220.9 1 16 1 3000"/>
<path d="M385.1 4133.6H2100" stroke="#c96a4e" stroke-width="32" stroke-dasharray="3 44.1 1.5 6.5 1.6 4 3 7 3.3 3 4 3.5 4 1 1.8 46.8 3.5 2.5 1 1 4 2 2 277.1 3 16.6 1 30.8 1 1.5 1 1.2 0.1 46.1 1 204.3 1 54.2 3 254.6 2 23 3 27.6 2 8 2 3 2 3 3 16.5 1 1.5 2 4 1 2 2 30.8 4 3 0.5 127.8 3 2.4 1.4 6.7 2 2 1 2 0.7 10.8 3 2 4 19.3 1 12.5 0.2 22.5 1 62.2 1.5 48.5 1 3000"/>
<path d="M388.1 4133.6H2100" stroke="#e8602a" stroke-width="32" stroke-dasharray="20.1 25.5 6.5 18.9 2 6.5 2 4 1 8.5 4.8 2.9 2 2.6 2 5 1 4.1 1 0.6 1.5 9 3.5 4.5 1.5 1 1 9 2 272.6 1.5 3 0.3 317.2 6.7 33.6 1.5 3.9 5 311.3 2 3.5 2 3 2 14 1 11.5 1 32.3 4 6.5 1.5 175.6 4 2 1.5 3000"/>
<path d="M441.8 4133.6H2100" stroke="#8a1811" stroke-width="32" stroke-dasharray="3 4 7 395.5 1 574.8 7.7 292.3 2 1 2 3000"/>
<path d="M444.8 4133.6H2100" stroke="#8e99a6" stroke-width="32" stroke-dasharray="1 376.6 1 58.6 1 11.5 1.9 225.9 1.5 1 0.4 35.6 1 29.2 0.6 146.6 1.5 44.1 1 56.4 1.5 14.5 3.5 5.5 1.5 1.5 1.5 1 6.2 44.4 1.5 21.5 1.5 4.2 1.5 50.4 1 5.8 1 30.8 1 1.3 1 102.8 1 104.8 1 2 2 8.9 4 1.5 4.5 4 4 1 4 2.5 5 3.5 3.5 4 4 1.5 1 4 2 6.5 2 3000"/>
<path d="M461.1 4133.6H2100" stroke="#f4a582" stroke-width="32" stroke-dasharray="1 4 1.5 32.4 1.5 2.6 2 29 1 6 0.6 385.4 1 3000"/>
<path d="M542.7 4133.6H2100" stroke="#0a6db8" stroke-width="32" stroke-dasharray="5.8 3000"/>
<path d="M824.7 4133.6H2100" stroke="#5c6672" stroke-width="32" stroke-dasharray="1 875.2 1 3000"/>
<path d="M1189.1 4133.6H2100" stroke="#3aa8e0" stroke-width="32" stroke-dasharray="1.5 146.1 1.5 1.5 0.8 94.2 1 4 1.5 2.5 4 1 2 1.5 5 20.8 14.4 3.5 2 13.5 1 4 2 1.5 1.5 2.5 1.5 2 3 2.5 1.5 7 2 5 1 0.7 1 3.5 1.5 1 2 4 7 171.4 2 10.3 2 1 2 4 2 3 4 2.5 5 1 4 1.2 22.5 1 5.3 1.9 2 4 3 3 1.5 5 3 1.5 4 3.5 2 1 2 2.5 2 3 2 1 3.5 31.9 2 6 3 3000"/>
<path d="M1552.6 4133.6H2100" stroke="#a3d5f5" stroke-width="32" stroke-dasharray="2 1.5 1 2 4 7 1.1 306 4 34 4 4.5 3 3 1.9 3000"/>
<path d="M1737.5 4133.6H2100" stroke="#6e1a14" stroke-width="32" stroke-dasharray="4 5 1 5 1.3 137.9 1 7 1.5 3000"/>
<path d="M1819.3 4133.6H2100" stroke="#58b5e7" stroke-width="32" stroke-dasharray="2 4 3 3 2 11 1.5 3000"/>
<path d="M257.3 4183.6H2100" stroke="#8e99a6" stroke-width="32" stroke-dasharray="1 88.4 1 2.3 1.5 35.5 2 7.7 4 12 4 681.3 1.5 5 2 0.8 0.7 22.1 6 1.5 1.2 13.5 3 29.5 0.1 153 1 6 1 126.5 3 4 1.6 184.6 1 23.1 2 44.7 1.3 22.1 1 37.8 0.7 0.8 1.6 2.8 0.5 3000"/>
<path d="M298.6 4183.6H2100" stroke="#b9c3cd" stroke-width="32" stroke-dasharray="1 135.5 1 3.3 1.3 2.6 0.7 2.4 0.7 0.8 1.6 2.5 0.4 487.3 1 53.8 1 218.2 2.5 4 3.1 43.3 0.7 3.3 0.7 1.4 1 3.6 0.8 418.1 1 191.3 1 18.3 1 3000"/>
<path d="M365.9 4183.6H2100" stroke="#e8602a" stroke-width="32" stroke-dasharray="3.8 15.2 2 499.9 8 0.8 6 0.9 1.6 4.8 3.8 183.6 1 15.3 4 4 1.6 18.3 5 3.5 2 14 4 4 4 1.5 3 41.6 3 1.5 5 4 5.7 67.3 4.8 28.2 1 14.6 4 3.5 3.5 4 1.5 2 1 4.5 4 241.2 2.2 4.8 1.5 5 3.1 4.6 2 10 2.7 74 2 0.5 5 6.6 5 3000"/>
<path d="M377.4 4183.6H2100" stroke="#c96a4e" stroke-width="32" stroke-dasharray="3 1.5 3 4 3 1.5 3.2 12 3 42.7 1 88.4 3 546.8 2 4.3 3 13.9 4 18 2 5 2 9 3 3.5 2 5 3 12.6 1.5 1 2 4 2 1 1.9 16.9 4 6.1 1.5 5 4 56.7 1 39.4 4 1 4 1 1 1 0.5 8.7 2 7 2 6.5 1 1.5 1 2 3 89.3 2 3 4 11.6 1.5 125.3 1.5 3.5 1 12.5 5 17.2 2 32.6 1.3 29.4 10.5 11.5 5 3000"/>
<path d="M400.6 4183.6H2100" stroke="#3aa8e0" stroke-width="32" stroke-dasharray="5.5 12 0.6 717.3 1.5 61.7 1.5 0.5 1.5 0.4 2 2.6 3 0.8 2 36.7 8.7 411.4 19.2 32.7 1.5 3000"/>
<path d="M407.6 4183.6H2100" stroke="#a3d5f5" stroke-width="32" stroke-dasharray="1 8 1.5 787.6 1.5 484.2 1.5 3000"/>
<path d="M548.2 4183.6H2100" stroke="#f4a582" stroke-width="32" stroke-dasharray="3 633.7 1 1.5 1 2 4 2 1 173.1 2 14 0.2 3000"/>
<path d="M1122.3 4183.6H2100" stroke="#8a1811" stroke-width="32" stroke-dasharray="7.7 192.2 1.9 24.1 2 2 2.7 125.9 10 1.5 4.8 113.4 2 1 4 1.5 2 2.5 4 18.6 2 3.1 1.5 0.3 2 0.7 2 63.5 1 12 2 3000"/>
<path d="M1159.7 4183.6H2100" stroke="#6e1a14" stroke-width="32" stroke-dasharray="2 20 1.5 163.1 2 2 2 3000"/>
<path d="M1458.8 4183.6H2100" stroke="#5c6672" stroke-width="32" stroke-dasharray="1 337.4 0.7 4.9 0.7 3000"/>
<path d="M204.4 3165.3V4228" stroke="#1d1d1b" stroke-width="5" stroke-linecap="round" stroke-dasharray="0 16.55"/>
<path d="M300.5 3165.3V4228" stroke="#1d1d1b" stroke-width="5" stroke-linecap="round" stroke-dasharray="0 16.55"/>
<path d="M396.6 3165.3V4228" stroke="#1d1d1b" stroke-width="5" stroke-linecap="round" stroke-dasharray="0 16.55"/>
<path d="M492.8 3165.3V4228" stroke="#1d1d1b" stroke-width="5" stroke-linecap="round" stroke-dasharray="0 16.55"/>
<path d="M588.9 3165.3V4228" stroke="#1d1d1b" stroke-width="5" stroke-linecap="round" stroke-dasharray="0 16.55"/>
<path d="M685.0 3165.3V4228" stroke="#1d1d1b" stroke-width="5" stroke-linecap="round" stroke-dasharray="0 16.55"/>
<path d="M781.1 3165.3V4228" stroke="#1d1d1b" stroke-width="5" stroke-linecap="round" stroke-dasharray="0 16.55"/>
<path d="M877.2 3165.3V4228" stroke="#1d1d1b" stroke-width="5" stroke-linecap="round" stroke-dasharray="0 16.55"/>
<path d="M973.4 3165.3V4228" stroke="#1d1d1b" stroke-width="5" stroke-linecap="round" stroke-dasharray="0 16.55"/>
<path d="M1069.5 3165.3V4228" stroke="#1d1d1b" stroke-width="5" stroke-linecap="round" stroke-dasharray="0 16.55"/>
<path d="M1165.6 3165.3V4228" stroke="#1d1d1b" stroke-width="5" stroke-linecap="round" stroke-dasharray="0 16.55"/>
<path d="M1261.7 3165.3V4228" stroke="#1d1d1b" stroke-width="5" stroke-linecap="round" stroke-dasharray="0 16.55"/>
<path d="M1357.8 3165.3V4228" stroke="#1d1d1b" stroke-width="5" stroke-linecap="round" stroke-dasharray="0 16.55"/>
<path d="M1454.0 3165.3V4228" stroke="#1d1d1b" stroke-width="5" stroke-linecap="round" stroke-dasharray="0 16.55"/>
<path d="M1550.1 3165.3V4228" stroke="#1d1d1b" stroke-width="5" stroke-linecap="round" stroke-dasharray="0 16.55"/>
<path d="M1646.2 3165.3V4228" stroke="#1d1d1b" stroke-width="5" stroke-linecap="round" stroke-dasharray="0 16.55"/>
<path d="M1742.3 3165.3V4228" stroke="#1d1d1b" stroke-width="5" stroke-linecap="round" stroke-dasharray="0 16.55"/>
<path d="M1838.4 3165.3V4228" stroke="#1d1d1b" stroke-width="5" stroke-linecap="round" stroke-dasharray="0 16.55"/>
<path d="M1934.6 3165.3V4228" stroke="#1d1d1b" stroke-width="5" stroke-linecap="round" stroke-dasharray="0 16.55"/>
<path d="M188.7 3182.6H203" stroke="#1d1d1b" stroke-width="2.8"/>
<text x="156.1" y="3192.5" font-size="52.5" textLength="20.1" lengthAdjust="spacingAndGlyphs" fill="#1d1d1b" stroke="#1d1d1b" stroke-width="0.63" stroke-linejoin="round" font-family='"Liberation Sans",sans-serif'>1</text>
<path d="M188.7 3232.7H203" stroke="#1d1d1b" stroke-width="2.8"/>
<path d="M188.7 3282.7H203" stroke="#1d1d1b" stroke-width="2.8"/>
<text x="156.1" y="3292.6" font-size="52.5" textLength="23.4" lengthAdjust="spacingAndGlyphs" fill="#1d1d1b" stroke="#1d1d1b" stroke-width="0.63" stroke-linejoin="round" font-family='"Liberation Sans",sans-serif'>3</text>
<path d="M188.7 3332.8H203" stroke="#1d1d1b" stroke-width="2.8"/>
<path d="M188.7 3382.8H203" stroke="#1d1d1b" stroke-width="2.8"/>
<text x="156.1" y="3392.7" font-size="52.5" textLength="23.4" lengthAdjust="spacingAndGlyphs" fill="#1d1d1b" stroke="#1d1d1b" stroke-width="0.63" stroke-linejoin="round" font-family='"Liberation Sans",sans-serif'>5</text>
<path d="M188.7 3432.8H203" stroke="#1d1d1b" stroke-width="2.8"/>
<path d="M188.7 3482.9H203" stroke="#1d1d1b" stroke-width="2.8"/>
<text x="155.6" y="3492.8" font-size="52.5" textLength="24.4" lengthAdjust="spacingAndGlyphs" fill="#1d1d1b" stroke="#1d1d1b" stroke-width="0.63" stroke-linejoin="round" font-family='"Liberation Sans",sans-serif'>7</text>
<path d="M188.7 3532.9H203" stroke="#1d1d1b" stroke-width="2.8"/>
<path d="M188.7 3583.0H203" stroke="#1d1d1b" stroke-width="2.8"/>
<text x="155.9" y="3592.9" font-size="52.5" textLength="23.9" lengthAdjust="spacingAndGlyphs" fill="#1d1d1b" stroke="#1d1d1b" stroke-width="0.63" stroke-linejoin="round" font-family='"Liberation Sans",sans-serif'>9</text>
<path d="M188.7 3633.0H203" stroke="#1d1d1b" stroke-width="2.8"/>
<path d="M188.7 3683.1H203" stroke="#1d1d1b" stroke-width="2.8"/>
<text x="130.5" y="3693.0" font-size="52.5" textLength="46.2" lengthAdjust="spacingAndGlyphs" fill="#1d1d1b" stroke="#1d1d1b" stroke-width="0.63" stroke-linejoin="round" font-family='"Liberation Sans",sans-serif'>11</text>
<path d="M188.7 3733.1H203" stroke="#1d1d1b" stroke-width="2.8"/>
<path d="M188.7 3783.2H203" stroke="#1d1d1b" stroke-width="2.8"/>
<text x="129.4" y="3793.1" font-size="52.5" textLength="50.3" lengthAdjust="spacingAndGlyphs" fill="#1d1d1b" stroke="#1d1d1b" stroke-width="0.63" stroke-linejoin="round" font-family='"Liberation Sans",sans-serif'>13</text>
<path d="M188.7 3833.2H203" stroke="#1d1d1b" stroke-width="2.8"/>
<path d="M188.7 3883.3H203" stroke="#1d1d1b" stroke-width="2.8"/>
<text x="129.4" y="3893.2" font-size="52.5" textLength="50.3" lengthAdjust="spacingAndGlyphs" fill="#1d1d1b" stroke="#1d1d1b" stroke-width="0.63" stroke-linejoin="round" font-family='"Liberation Sans",sans-serif'>15</text>
<path d="M188.7 3933.3H203" stroke="#1d1d1b" stroke-width="2.8"/>
<path d="M188.7 3983.4H203" stroke="#1d1d1b" stroke-width="2.8"/>
<text x="129.4" y="3993.3" font-size="52.5" textLength="50.8" lengthAdjust="spacingAndGlyphs" fill="#1d1d1b" stroke="#1d1d1b" stroke-width="0.63" stroke-linejoin="round" font-family='"Liberation Sans",sans-serif'>17</text>
<path d="M188.7 4033.4H203" stroke="#1d1d1b" stroke-width="2.8"/>
<path d="M188.7 4083.5H203" stroke="#1d1d1b" stroke-width="2.8"/>
<text x="129.4" y="4093.4" font-size="52.5" textLength="50.6" lengthAdjust="spacingAndGlyphs" fill="#1d1d1b" stroke="#1d1d1b" stroke-width="0.63" stroke-linejoin="round" font-family='"Liberation Sans",sans-serif'>19</text>
<path d="M188.7 4133.6H203" stroke="#1d1d1b" stroke-width="2.8"/>
<path d="M188.7 4183.6H203" stroke="#1d1d1b" stroke-width="2.8"/>
<text x="129.9" y="4193.5" font-size="52.5" textLength="46.6" lengthAdjust="spacingAndGlyphs" fill="#1d1d1b" stroke="#1d1d1b" stroke-width="0.63" stroke-linejoin="round" font-family='"Liberation Sans",sans-serif'>21</text>
<rect x="1743.6" y="3919.3" width="190.6" height="29.2" fill="none" stroke="#1d1d1b" stroke-width="3.6"/>
<text x="145.7" y="4281.3" font-size="52.5" textLength="117.2" lengthAdjust="spacingAndGlyphs" fill="#1d1d1b" stroke="#1d1d1b" stroke-width="0.63" stroke-linejoin="round" font-family='"Liberation Sans",sans-serif'>06:00</text>
<text x="528.5" y="4281.3" font-size="52.5" textLength="118.9" lengthAdjust="spacingAndGlyphs" fill="#1d1d1b" stroke="#1d1d1b" stroke-width="0.63" stroke-linejoin="round" font-family='"Liberation Sans",sans-serif'>10:00</text>
<text x="913.0" y="4281.3" font-size="52.5" textLength="118.9" lengthAdjust="spacingAndGlyphs" fill="#1d1d1b" stroke="#1d1d1b" stroke-width="0.63" stroke-linejoin="round" font-family='"Liberation Sans",sans-serif'>14:00</text>
<text x="1297.5" y="4281.3" font-size="52.5" textLength="118.9" lengthAdjust="spacingAndGlyphs" fill="#1d1d1b" stroke="#1d1d1b" stroke-width="0.63" stroke-linejoin="round" font-family='"Liberation Sans",sans-serif'>18:00</text>
<text x="1683.2" y="4281.3" font-size="52.5" textLength="117.7" lengthAdjust="spacingAndGlyphs" fill="#1d1d1b" stroke="#1d1d1b" stroke-width="0.63" stroke-linejoin="round" font-family='"Liberation Sans",sans-serif'>22:00</text>
<text x="1000.0" y="4354.2" font-size="52.5" textLength="78.2" lengthAdjust="spacingAndGlyphs" fill="#1d1d1b" stroke="#1d1d1b" stroke-width="0.63" stroke-linejoin="round" font-family='"Liberation Sans",sans-serif'>Zeit</text>
<text transform="translate(106 3724.6) rotate(-90)" font-size="54" textLength="77" lengthAdjust="spacingAndGlyphs" fill="#1d1d1b" stroke="#1d1d1b" stroke-width="1.1" font-family='"Liberation Sans",sans-serif'>Tag</text>
<path d="M207.0 4444.3H2100" stroke="#8a1811" stroke-width="78.6" stroke-dasharray="1.8 1.8 5.8 1.2 1.4 1.2 7.1 1.7 7.6 1.2 2.6 1.3 2 5 16.2 3.8 13.4 426.4 29.5 1 32 2 13 1 25 1 35 1 14.7 8.3 1 503.3 3.6 14.9 1 19.4 2 22.4 3.5 11.8 6 17.8 3.8 0.8 10.7 5.3 10.7 7 5.4 1 3 7.4 7.5 1.7 3.6 11.4 2 2 1 9.2 8.9 3.5 4.9 1 4.8 2.1 11 1.5 4.9 1.8 8.9 1.8 3.5 1.8 6.4 51.2 22.4 2.1 6.1 3000"/>
<path d="M208.8 4444.3H2100" stroke="#8e99a6" stroke-width="78.6" stroke-dasharray="1.8 658.4 2 2 2 1 2 4 3 4 1.5 2 2.5 490.4 3 7.4 4 152.1 4 2 0.1 2 2 1 9.2 3000"/>
<path d="M216.4 4444.3H2100" stroke="#a3d5f5" stroke-width="78.6" stroke-dasharray="1.2 1.4 1.2 16.4 1.2 2.6 1.3 803 17.3 1.5 46 271.1 2.1 7.2 1.5 43.9 4.3 70.4 4.2 14.6 5 17.1 1 4 2 3000"/>
<path d="M227.3 4444.3H2100" stroke="#58b5e7" stroke-width="78.6" stroke-dasharray="1.7 90 1 55.7 1 21.6 1 40.4 1 30.7 1 12.5 1 21.6 1 21.5 1 16.4 1 36.6 1 38.2 1 36.7 1 27.1 1 234 1 18.6 1 26.4 1 30 1 186.8 1 33.2 1 32.6 1 11.4 1 31.7 1 36.7 1 100.7 2.9 3000"/>
<path d="M243.7 4444.3H2100" stroke="#3aa8e0" stroke-width="78.6" stroke-dasharray="5 16.2 3.8 16.4 210.4 1 212 162.5 1 6 4 13 141.4 25.6 1.5 94.9 192 95.6 4.2 3000"/>
<path d="M875.0 4444.3H2100" stroke="#5c6672" stroke-width="78.6" stroke-dasharray="1 9 4 152 1.3 113.2 1.5 203.7 2.1 0.7 6.4 0.7 5 12.8 1.5 1.5 0.6 9.8 2 2 1 15.4 9.6 33.7 10.7 299.3 1.3 2.2 1.3 8.7 1.2 2.8 1.2 3000"/>
<path d="M890.5 4444.3H2100" stroke="#c96a4e" stroke-width="78.6" stroke-dasharray="2 490.9 2 14.4 2 10.4 3 2 2.1 103.1 1 3 2.4 3000"/>
<path d="M1403.8 4444.3H2100" stroke="#6e1a14" stroke-width="78.6" stroke-dasharray="2 1 1.9 3000"/>
<path d="M1408.7 4444.3H2100" stroke="#b9c3cd" stroke-width="78.6" stroke-dasharray="3.5 7.1 2.9 9.6 3.5 14.9 3 1 0.7 3000"/>
<path d="M1453.2 4444.3H2100" stroke="#f4a582" stroke-width="78.6" stroke-dasharray="1 6.7 1.1 32 1.6 1.3 1 48.7 1 0.8 1 1.3 0.2 30.2 1 1.1 1 46.6 1.8 3000"/>
<path d="M516 2507.6H1935V2861H516Z M583.5 2508L590 2455L597 2508Z" fill="#1d1d1b"/>
<text x="541.0" y="2572.1" font-size="52.5" textLength="1304.0" lengthAdjust="spacingAndGlyphs" fill="#ffffff" stroke="#ffffff" stroke-width="0.63" stroke-linejoin="round" font-family='"Liberation Sans",sans-serif'>Ein genauer Blick auf 2 Stunden Aktivität von Teilnehmer A am</text>
<text x="541.7" y="2636.1" font-size="52.5" textLength="1364.1" lengthAdjust="spacingAndGlyphs" fill="#ffffff" stroke="#ffffff" stroke-width="0.63" stroke-linejoin="round" font-family='"Liberation Sans",sans-serif'>Tag 16 verrät detaillierter, womit er seine Zeit verbracht hat: Mehr</text>
<text x="541.6" y="2700.1" font-size="52.5" textLength="1276.5" lengthAdjust="spacingAndGlyphs" fill="#ffffff" stroke="#ffffff" stroke-width="0.63" stroke-linejoin="round" font-family='"Liberation Sans",sans-serif'>als die Hälfte der Apps, mit denen sich A beschäftigte, waren</text>
<text x="540.4" y="2764.1" font-size="52.5" textLength="1295.9" lengthAdjust="spacingAndGlyphs" fill="#ffffff" stroke="#ffffff" stroke-width="0.63" stroke-linejoin="round" font-family='"Liberation Sans",sans-serif'>unterschiedliche Social-Media-Anwendungen (meist Snapchat</text>
<text x="540.4" y="2828.1" font-size="52.5" textLength="320.5" lengthAdjust="spacingAndGlyphs" fill="#ffffff" stroke="#ffffff" stroke-width="0.63" stroke-linejoin="round" font-family='"Liberation Sans",sans-serif'>und Instagram)</text>
<path d="M914.4 4586.2H1934.5V4752.4H914.4Z M955 4587L962.3 4533.7L970 4587Z" fill="#1d1d1b"/>
<text x="936.1" y="4650.1" font-size="52.5" textLength="793.5" lengthAdjust="spacingAndGlyphs" fill="#ffffff" stroke="#ffffff" stroke-width="0.63" stroke-linejoin="round" font-family='"Liberation Sans",sans-serif'>Teilnehmer B beschäftigte sich mit 30</text>
<text x="937.4" y="4714.1" font-size="52.5" textLength="949.8" lengthAdjust="spacingAndGlyphs" fill="#ffffff" stroke="#ffffff" stroke-width="0.63" stroke-linejoin="round" font-family='"Liberation Sans",sans-serif'>verschiedenen Apps, hauptsächlich YouTube.</text>
<text x="122.8" y="4753.3" font-size="103.5" textLength="251.7" lengthAdjust="spacingAndGlyphs" fill="#a9a9a9" font-family='"Liberation Serif",serif' font-weight="bold" stroke="#a9a9a9" stroke-width="1.6">nature</text>
<text x="63.6" y="4753.8" font-size="80" textLength="55.8" lengthAdjust="spacingAndGlyphs" fill="#a9a9a9" font-family='"Liberation Serif",serif' font-weight="bold" stroke="#a9a9a9" stroke-width="2.4">©</text>
<path d="M981.9 2444.9L991.0 2424.0L1000.1 2444.9Z" fill="none" stroke="#1d1d1b" stroke-width="2.8"/>
<path d="M990.4 2444.9L999.5 2424.0L1008.6 2444.9Z" fill="none" stroke="#1d1d1b" stroke-width="2.8"/>
<path d="M1073.2 2444.9L1082.3 2424.0L1091.4 2444.9Z" fill="none" stroke="#1d1d1b" stroke-width="2.8"/>
<path d="M435.5 4510.1L444.6 4489.2L453.7 4510.1Z" fill="none" stroke="#1d1d1b" stroke-width="2.8"/>
<path d="M457.7 4510.1L466.8 4489.2L475.9 4510.1Z" fill="none" stroke="#1d1d1b" stroke-width="2.8"/>
<path d="M1383.2 4510.1L1392.3 4489.2L1401.4 4510.1Z" fill="none" stroke="#1d1d1b" stroke-width="2.8"/>
<path d="M1386.2 4510.1L1395.3 4489.2L1404.4 4510.1Z" fill="none" stroke="#1d1d1b" stroke-width="2.8"/>
<path d="M1507.7 4510.1L1516.8 4489.2L1525.9 4510.1Z" fill="none" stroke="#1d1d1b" stroke-width="2.8"/>
<path d="M1510.9 4510.1L1520.0 4489.2L1529.1 4510.1Z" fill="none" stroke="#1d1d1b" stroke-width="2.8"/>
<path d="M1551.5 4510.1L1560.6 4489.2L1569.7 4510.1Z" fill="none" stroke="#1d1d1b" stroke-width="2.8"/>
<path d="M1555.1 4510.1L1564.2 4489.2L1573.3 4510.1Z" fill="none" stroke="#1d1d1b" stroke-width="2.8"/>
<path d="M1570.4 4510.1L1579.5 4489.2L1588.6 4510.1Z" fill="none" stroke="#1d1d1b" stroke-width="2.8"/>
</svg></body></html>
